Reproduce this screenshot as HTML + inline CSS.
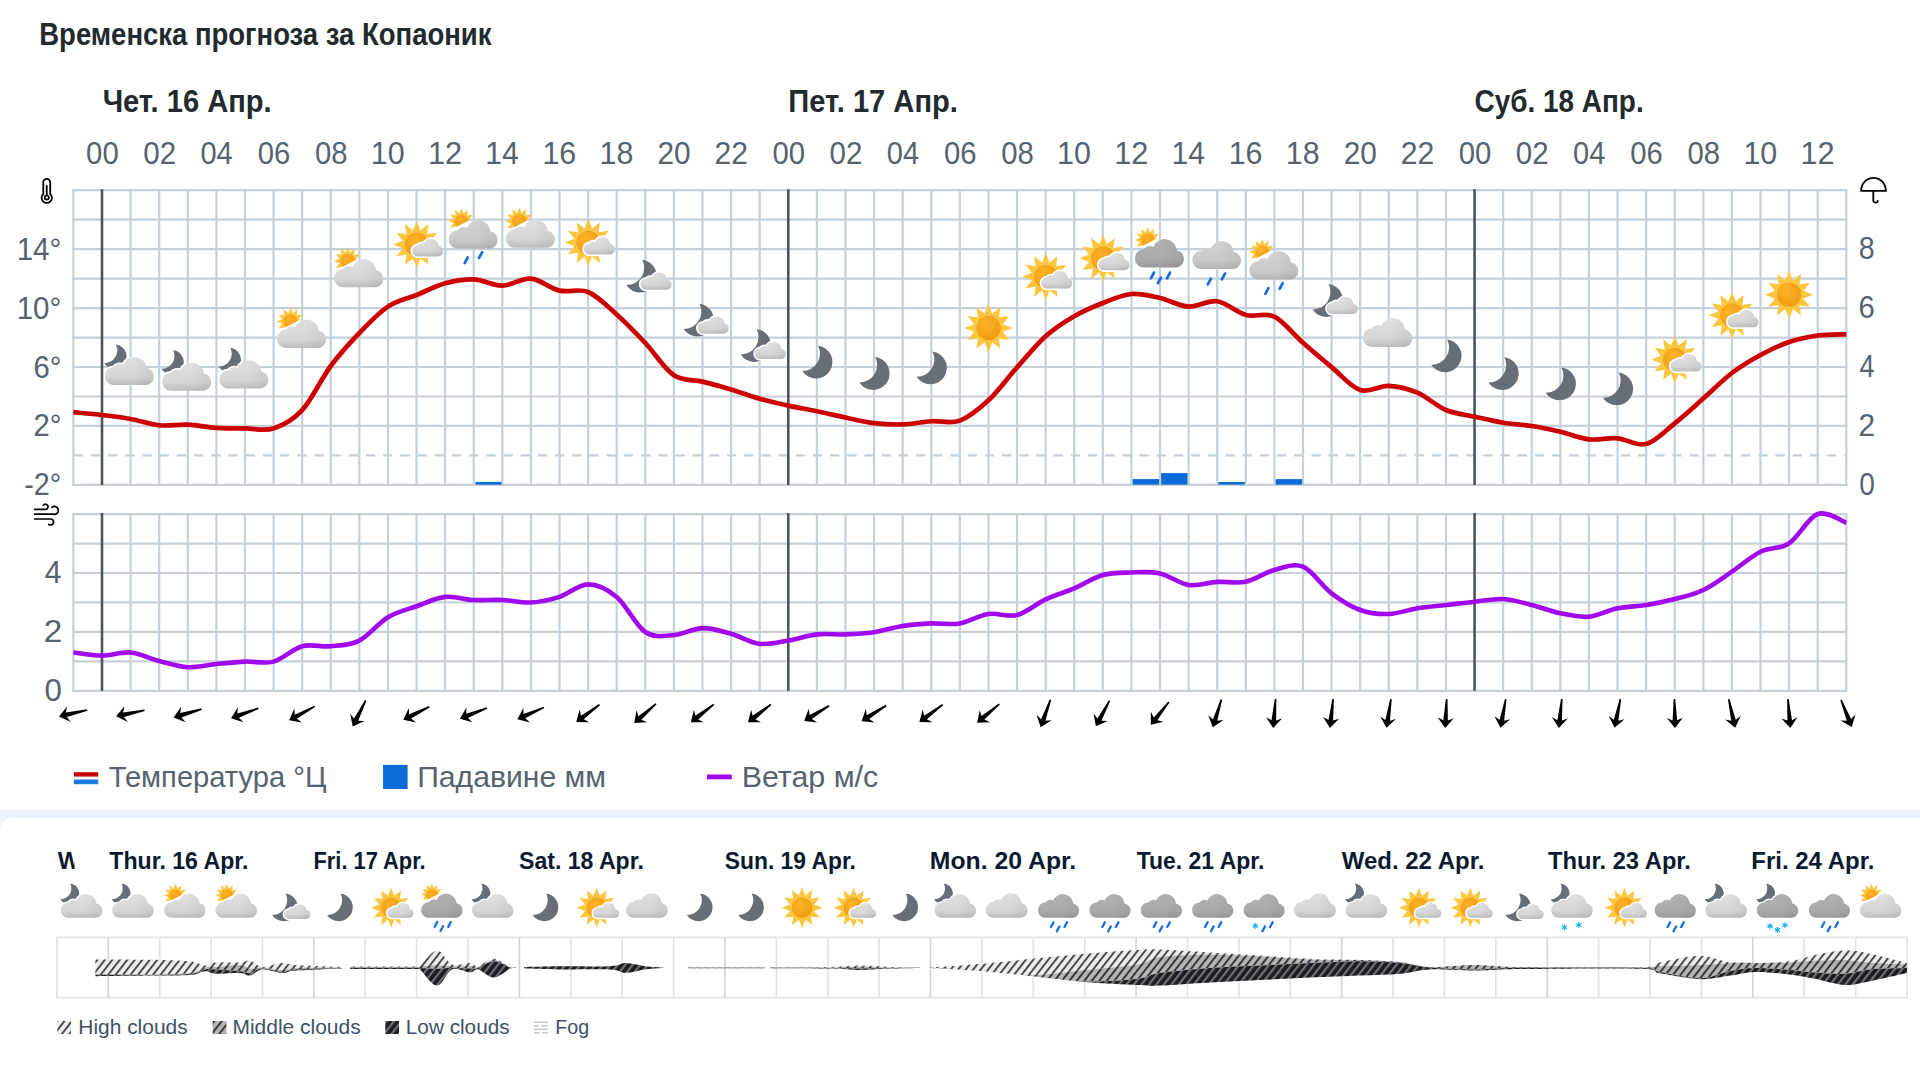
<!DOCTYPE html><html><head><meta charset="utf-8"><style>html,body{margin:0;padding:0;background:#fff;width:1920px;height:1080px;overflow:hidden}svg{display:block}</style></head><body>
<svg width="1920" height="1080" viewBox="0 0 1920 1080" font-family='"Liberation Sans", sans-serif'>
<defs>
<linearGradient id="gCl" x1="0" y1="0" x2="0" y2="1"><stop offset="0" stop-color="#e0e0e0"/><stop offset="0.7" stop-color="#d6d6d6"/><stop offset="1" stop-color="#bdbdbd"/></linearGradient>
<linearGradient id="gClD" x1="0" y1="0" x2="0" y2="1"><stop offset="0" stop-color="#b0b0b0"/><stop offset="0.7" stop-color="#ababab"/><stop offset="1" stop-color="#999999"/></linearGradient>
<linearGradient id="gClM" x1="0" y1="0" x2="0" y2="1"><stop offset="0" stop-color="#d2d2d2"/><stop offset="0.7" stop-color="#cacaca"/><stop offset="1" stop-color="#b4b4b4"/></linearGradient>
<linearGradient id="gClShade" x1="0" y1="0" x2="1" y2="0"><stop offset="0.55" stop-color="#000" stop-opacity="0"/><stop offset="1" stop-color="#000" stop-opacity="0.06"/></linearGradient>
<radialGradient id="gSun" cx="0.4" cy="0.35" r="0.7"><stop offset="0" stop-color="#fbb22a"/><stop offset="1" stop-color="#f39a0c"/></radialGradient>
<g id="cloudShape"><g><circle cx="11" cy="18" r="10"/><circle cx="27" cy="13" r="13"/><circle cx="40" cy="18.5" r="9.5"/><rect x="11" y="14" width="29" height="14"/></g></g>
<g id="sun"><polygon points="0.00,-24.00 3.83,-14.30 12.00,-20.78 10.47,-10.47 20.78,-12.00 14.30,-3.83 24.00,0.00 14.30,3.83 20.78,12.00 10.47,10.47 12.00,20.78 3.83,14.30 0.00,24.00 -3.83,14.30 -12.00,20.78 -10.47,10.47 -20.78,12.00 -14.30,3.83 -24.00,0.00 -14.30,-3.83 -20.78,-12.00 -10.47,-10.47 -12.00,-20.78 -3.83,-14.30" fill="#fcc63f"/><circle r="13.6" fill="#fbc84a"/><circle r="12.2" fill="url(#gSun)"/></g>
<path id="moon" d="M2.13,-16.36 A16.50,16.50 0 1 1 -13.83,9.00 A17.50,17.50 0 0 0 2.13,-16.36 Z" fill="#686e76"/>
<pattern id="pH" patternUnits="userSpaceOnUse" width="5.9" height="10" patternTransform="rotate(38)"><rect width="5.9" height="10" fill="#ececec"/><rect width="1.8" height="10" fill="#3e3e3e"/></pattern>
<pattern id="pM" patternUnits="userSpaceOnUse" width="5.9" height="10" patternTransform="rotate(38)"><rect width="5.9" height="10" fill="#b4b4b4"/><rect width="2.0" height="10" fill="#383838"/></pattern>
<pattern id="pL" patternUnits="userSpaceOnUse" width="5.9" height="10" patternTransform="rotate(38)"><rect width="5.9" height="10" fill="#1c1c20"/><rect width="2.2" height="10" fill="#707074"/></pattern>
</defs>
<rect x="0" y="0" width="1920" height="1080" fill="#ffffff"/>
<rect x="0" y="810" width="1920" height="270" fill="#edf3fb"/>
<rect x="0" y="818" width="1932" height="280" rx="12" ry="12" fill="#ffffff"/>
<text x="39.25" y="44.70" font-size="31.01" font-weight="bold" fill="#232a2e" textLength="452.19" lengthAdjust="spacingAndGlyphs">Временска прогноза за Копаоник</text>
<text x="102.64" y="111.90" font-size="30.43" font-weight="bold" fill="#232a2e" textLength="169.03" lengthAdjust="spacingAndGlyphs">Чет. 16 Апр.</text>
<text x="788.25" y="111.90" font-size="30.43" font-weight="bold" fill="#232a2e" textLength="169.62" lengthAdjust="spacingAndGlyphs">Пет. 17 Апр.</text>
<text x="1474.48" y="111.90" font-size="30.43" font-weight="bold" fill="#232a2e" textLength="169.21" lengthAdjust="spacingAndGlyphs">Суб. 18 Апр.</text>
<text x="86.12" y="163.70" font-size="32.00" font-weight="normal" fill="#56636f" textLength="32.53" lengthAdjust="spacingAndGlyphs">00</text>
<text x="143.30" y="163.70" font-size="32.00" font-weight="normal" fill="#56636f" textLength="32.85" lengthAdjust="spacingAndGlyphs">02</text>
<text x="200.51" y="163.70" font-size="32.00" font-weight="normal" fill="#56636f" textLength="32.23" lengthAdjust="spacingAndGlyphs">04</text>
<text x="257.69" y="163.70" font-size="32.00" font-weight="normal" fill="#56636f" textLength="32.53" lengthAdjust="spacingAndGlyphs">06</text>
<text x="314.88" y="163.70" font-size="32.00" font-weight="normal" fill="#56636f" textLength="32.53" lengthAdjust="spacingAndGlyphs">08</text>
<text x="370.82" y="163.70" font-size="32.00" font-weight="normal" fill="#56636f" textLength="33.83" lengthAdjust="spacingAndGlyphs">10</text>
<text x="427.98" y="163.70" font-size="32.00" font-weight="normal" fill="#56636f" textLength="34.17" lengthAdjust="spacingAndGlyphs">12</text>
<text x="485.22" y="163.70" font-size="32.00" font-weight="normal" fill="#56636f" textLength="33.50" lengthAdjust="spacingAndGlyphs">14</text>
<text x="542.39" y="163.70" font-size="32.00" font-weight="normal" fill="#56636f" textLength="33.83" lengthAdjust="spacingAndGlyphs">16</text>
<text x="599.58" y="163.70" font-size="32.00" font-weight="normal" fill="#56636f" textLength="33.83" lengthAdjust="spacingAndGlyphs">18</text>
<text x="657.40" y="163.70" font-size="32.00" font-weight="normal" fill="#56636f" textLength="33.17" lengthAdjust="spacingAndGlyphs">20</text>
<text x="714.58" y="163.70" font-size="32.00" font-weight="normal" fill="#56636f" textLength="33.50" lengthAdjust="spacingAndGlyphs">22</text>
<text x="772.40" y="163.70" font-size="32.00" font-weight="normal" fill="#56636f" textLength="32.53" lengthAdjust="spacingAndGlyphs">00</text>
<text x="829.58" y="163.70" font-size="32.00" font-weight="normal" fill="#56636f" textLength="32.85" lengthAdjust="spacingAndGlyphs">02</text>
<text x="886.79" y="163.70" font-size="32.00" font-weight="normal" fill="#56636f" textLength="32.23" lengthAdjust="spacingAndGlyphs">04</text>
<text x="943.97" y="163.70" font-size="32.00" font-weight="normal" fill="#56636f" textLength="32.53" lengthAdjust="spacingAndGlyphs">06</text>
<text x="1001.16" y="163.70" font-size="32.00" font-weight="normal" fill="#56636f" textLength="32.53" lengthAdjust="spacingAndGlyphs">08</text>
<text x="1057.10" y="163.70" font-size="32.00" font-weight="normal" fill="#56636f" textLength="33.83" lengthAdjust="spacingAndGlyphs">10</text>
<text x="1114.26" y="163.70" font-size="32.00" font-weight="normal" fill="#56636f" textLength="34.17" lengthAdjust="spacingAndGlyphs">12</text>
<text x="1171.50" y="163.70" font-size="32.00" font-weight="normal" fill="#56636f" textLength="33.50" lengthAdjust="spacingAndGlyphs">14</text>
<text x="1228.67" y="163.70" font-size="32.00" font-weight="normal" fill="#56636f" textLength="33.83" lengthAdjust="spacingAndGlyphs">16</text>
<text x="1285.86" y="163.70" font-size="32.00" font-weight="normal" fill="#56636f" textLength="33.83" lengthAdjust="spacingAndGlyphs">18</text>
<text x="1343.68" y="163.70" font-size="32.00" font-weight="normal" fill="#56636f" textLength="33.17" lengthAdjust="spacingAndGlyphs">20</text>
<text x="1400.86" y="163.70" font-size="32.00" font-weight="normal" fill="#56636f" textLength="33.50" lengthAdjust="spacingAndGlyphs">22</text>
<text x="1458.68" y="163.70" font-size="32.00" font-weight="normal" fill="#56636f" textLength="32.53" lengthAdjust="spacingAndGlyphs">00</text>
<text x="1515.86" y="163.70" font-size="32.00" font-weight="normal" fill="#56636f" textLength="32.85" lengthAdjust="spacingAndGlyphs">02</text>
<text x="1573.07" y="163.70" font-size="32.00" font-weight="normal" fill="#56636f" textLength="32.23" lengthAdjust="spacingAndGlyphs">04</text>
<text x="1630.25" y="163.70" font-size="32.00" font-weight="normal" fill="#56636f" textLength="32.53" lengthAdjust="spacingAndGlyphs">06</text>
<text x="1687.44" y="163.70" font-size="32.00" font-weight="normal" fill="#56636f" textLength="32.53" lengthAdjust="spacingAndGlyphs">08</text>
<text x="1743.38" y="163.70" font-size="32.00" font-weight="normal" fill="#56636f" textLength="33.83" lengthAdjust="spacingAndGlyphs">10</text>
<text x="1800.54" y="163.70" font-size="32.00" font-weight="normal" fill="#56636f" textLength="34.17" lengthAdjust="spacingAndGlyphs">12</text>
<g stroke="#c5d0d8" stroke-width="2.2" fill="none">
<line x1="72.3" y1="190.20" x2="1847.4" y2="190.20"/>
<line x1="72.3" y1="219.67" x2="1847.4" y2="219.67"/>
<line x1="72.3" y1="249.14" x2="1847.4" y2="249.14"/>
<line x1="72.3" y1="278.61" x2="1847.4" y2="278.61"/>
<line x1="72.3" y1="308.08" x2="1847.4" y2="308.08"/>
<line x1="72.3" y1="337.55" x2="1847.4" y2="337.55"/>
<line x1="72.3" y1="367.02" x2="1847.4" y2="367.02"/>
<line x1="72.3" y1="396.49" x2="1847.4" y2="396.49"/>
<line x1="72.3" y1="425.96" x2="1847.4" y2="425.96"/>
<line x1="72.3" y1="484.90" x2="1847.4" y2="484.90"/>
<line x1="73.40" y1="190.20" x2="73.40" y2="484.90"/>
<line x1="130.59" y1="190.20" x2="130.59" y2="484.90"/>
<line x1="159.19" y1="190.20" x2="159.19" y2="484.90"/>
<line x1="187.78" y1="190.20" x2="187.78" y2="484.90"/>
<line x1="216.38" y1="190.20" x2="216.38" y2="484.90"/>
<line x1="244.97" y1="190.20" x2="244.97" y2="484.90"/>
<line x1="273.56" y1="190.20" x2="273.56" y2="484.90"/>
<line x1="302.16" y1="190.20" x2="302.16" y2="484.90"/>
<line x1="330.75" y1="190.20" x2="330.75" y2="484.90"/>
<line x1="359.35" y1="190.20" x2="359.35" y2="484.90"/>
<line x1="387.94" y1="190.20" x2="387.94" y2="484.90"/>
<line x1="416.54" y1="190.20" x2="416.54" y2="484.90"/>
<line x1="445.13" y1="190.20" x2="445.13" y2="484.90"/>
<line x1="473.73" y1="190.20" x2="473.73" y2="484.90"/>
<line x1="502.32" y1="190.20" x2="502.32" y2="484.90"/>
<line x1="530.92" y1="190.20" x2="530.92" y2="484.90"/>
<line x1="559.51" y1="190.20" x2="559.51" y2="484.90"/>
<line x1="588.11" y1="190.20" x2="588.11" y2="484.90"/>
<line x1="616.70" y1="190.20" x2="616.70" y2="484.90"/>
<line x1="645.30" y1="190.20" x2="645.30" y2="484.90"/>
<line x1="673.89" y1="190.20" x2="673.89" y2="484.90"/>
<line x1="702.49" y1="190.20" x2="702.49" y2="484.90"/>
<line x1="731.08" y1="190.20" x2="731.08" y2="484.90"/>
<line x1="759.68" y1="190.20" x2="759.68" y2="484.90"/>
<line x1="816.87" y1="190.20" x2="816.87" y2="484.90"/>
<line x1="845.46" y1="190.20" x2="845.46" y2="484.90"/>
<line x1="874.06" y1="190.20" x2="874.06" y2="484.90"/>
<line x1="902.65" y1="190.20" x2="902.65" y2="484.90"/>
<line x1="931.25" y1="190.20" x2="931.25" y2="484.90"/>
<line x1="959.84" y1="190.20" x2="959.84" y2="484.90"/>
<line x1="988.44" y1="190.20" x2="988.44" y2="484.90"/>
<line x1="1017.03" y1="190.20" x2="1017.03" y2="484.90"/>
<line x1="1045.63" y1="190.20" x2="1045.63" y2="484.90"/>
<line x1="1074.22" y1="190.20" x2="1074.22" y2="484.90"/>
<line x1="1102.82" y1="190.20" x2="1102.82" y2="484.90"/>
<line x1="1131.41" y1="190.20" x2="1131.41" y2="484.90"/>
<line x1="1160.01" y1="190.20" x2="1160.01" y2="484.90"/>
<line x1="1188.61" y1="190.20" x2="1188.61" y2="484.90"/>
<line x1="1217.20" y1="190.20" x2="1217.20" y2="484.90"/>
<line x1="1245.80" y1="190.20" x2="1245.80" y2="484.90"/>
<line x1="1274.39" y1="190.20" x2="1274.39" y2="484.90"/>
<line x1="1302.99" y1="190.20" x2="1302.99" y2="484.90"/>
<line x1="1331.58" y1="190.20" x2="1331.58" y2="484.90"/>
<line x1="1360.17" y1="190.20" x2="1360.17" y2="484.90"/>
<line x1="1388.77" y1="190.20" x2="1388.77" y2="484.90"/>
<line x1="1417.37" y1="190.20" x2="1417.37" y2="484.90"/>
<line x1="1445.96" y1="190.20" x2="1445.96" y2="484.90"/>
<line x1="1503.15" y1="190.20" x2="1503.15" y2="484.90"/>
<line x1="1531.75" y1="190.20" x2="1531.75" y2="484.90"/>
<line x1="1560.34" y1="190.20" x2="1560.34" y2="484.90"/>
<line x1="1588.93" y1="190.20" x2="1588.93" y2="484.90"/>
<line x1="1617.53" y1="190.20" x2="1617.53" y2="484.90"/>
<line x1="1646.12" y1="190.20" x2="1646.12" y2="484.90"/>
<line x1="1674.72" y1="190.20" x2="1674.72" y2="484.90"/>
<line x1="1703.32" y1="190.20" x2="1703.32" y2="484.90"/>
<line x1="1731.91" y1="190.20" x2="1731.91" y2="484.90"/>
<line x1="1760.51" y1="190.20" x2="1760.51" y2="484.90"/>
<line x1="1789.10" y1="190.20" x2="1789.10" y2="484.90"/>
<line x1="1817.69" y1="190.20" x2="1817.69" y2="484.90"/>
<line x1="1846.29" y1="190.20" x2="1846.29" y2="484.90"/>
</g>
<line x1="73.7" y1="455.43" x2="1846.3" y2="455.43" stroke="#c5d0d8" stroke-width="2.2" stroke-dasharray="9.3 7.89"/>
<line x1="102.00" y1="189.20" x2="102.00" y2="484.90" stroke="#4b5461" stroke-width="2.6"/>
<line x1="788.27" y1="189.20" x2="788.27" y2="484.90" stroke="#4b5461" stroke-width="2.6"/>
<line x1="1474.56" y1="189.20" x2="1474.56" y2="484.90" stroke="#4b5461" stroke-width="2.6"/>
<text x="16.68" y="259.64" font-size="32.00" font-weight="normal" fill="#56636f" textLength="44.69" lengthAdjust="spacingAndGlyphs">14°</text>
<text x="16.68" y="318.58" font-size="32.00" font-weight="normal" fill="#56636f" textLength="44.69" lengthAdjust="spacingAndGlyphs">10°</text>
<text x="33.39" y="377.52" font-size="32.00" font-weight="normal" fill="#56636f" textLength="27.96" lengthAdjust="spacingAndGlyphs">6°</text>
<text x="33.39" y="436.46" font-size="32.00" font-weight="normal" fill="#56636f" textLength="27.96" lengthAdjust="spacingAndGlyphs">2°</text>
<text x="24.30" y="495.40" font-size="32.00" font-weight="normal" fill="#56636f" textLength="37.02" lengthAdjust="spacingAndGlyphs">-2°</text>
<text x="1858.85" y="259.44" font-size="31.43" font-weight="normal" fill="#56636f" textLength="15.93" lengthAdjust="spacingAndGlyphs">8</text>
<text x="1858.54" y="318.38" font-size="31.43" font-weight="normal" fill="#56636f" textLength="16.27" lengthAdjust="spacingAndGlyphs">6</text>
<text x="1859.46" y="377.32" font-size="31.43" font-weight="normal" fill="#56636f" textLength="14.99" lengthAdjust="spacingAndGlyphs">4</text>
<text x="1858.51" y="436.26" font-size="31.43" font-weight="normal" fill="#56636f" textLength="16.62" lengthAdjust="spacingAndGlyphs">2</text>
<text x="1859.16" y="495.20" font-size="31.43" font-weight="normal" fill="#56636f" textLength="15.61" lengthAdjust="spacingAndGlyphs">0</text>
<g fill="none" stroke="#000" stroke-width="1.8" stroke-linecap="round"><path d="M43.3,194 V182.3 A3.45,3.45 0 0 1 50.2,182.3 V194 A5.15,5.15 0 1 1 43.3,194 Z"/><line x1="46.75" y1="185.8" x2="46.75" y2="195.5"/></g>
<circle cx="46.75" cy="197.6" r="2.1" fill="#fff" stroke="#000" stroke-width="1.7"/>
<g fill="none" stroke="#000" stroke-width="1.8" stroke-linecap="round" stroke-linejoin="round"><path d="M1861.1,190.9 A12.4,13 0 0 1 1885.9,190.9 Z"/><path d="M1873.3,191 V199.6 A2.3,2.3 0 0 0 1877.8,200.9"/></g>
<g fill="none" stroke="#000" stroke-width="1.7" stroke-linecap="round"><path d="M34.7,509.3 H45 A2.6,2.6 0 1 0 43.3,505.2"/><path d="M34.7,514.2 H53.7 A3.9,3.9 0 1 0 52,507.3"/><path d="M34.7,519 H51 A3,3 0 1 1 48.7,524.3"/></g>
<rect x="475.5" y="481.9" width="26.0" height="2.7" fill="#0b6bd8"/>
<rect x="1132.7" y="479.1" width="26.4" height="5.5" fill="#0b6bd8"/>
<rect x="1161.1" y="473.1" width="26.4" height="11.5" fill="#0b6bd8"/>
<rect x="1218.4" y="482.0" width="26.4" height="2.6" fill="#0b6bd8"/>
<rect x="1275.7" y="479.1" width="26.4" height="5.5" fill="#0b6bd8"/>
<path d="M73.40,412.20 C78.17,412.67 92.46,413.87 102.00,415.00 C111.53,416.13 121.06,417.28 130.59,419.00 C140.12,420.72 149.65,424.35 159.19,425.30 C168.72,426.25 178.25,424.28 187.78,424.70 C197.31,425.12 206.84,427.18 216.38,427.80 C225.91,428.42 235.44,428.30 244.97,428.40 C254.50,428.50 264.03,431.43 273.56,428.40 C283.10,425.37 292.63,420.60 302.16,410.20 C311.69,399.80 321.22,378.87 330.75,366.00 C340.29,353.13 349.82,342.90 359.35,333.00 C368.88,323.10 378.41,312.93 387.94,306.60 C397.48,300.27 407.01,298.88 416.54,295.00 C426.07,291.12 435.60,285.90 445.13,283.30 C454.67,280.70 464.20,279.02 473.73,279.40 C483.26,279.78 492.79,285.73 502.32,285.60 C511.86,285.47 521.39,277.77 530.92,278.60 C540.45,279.43 549.98,288.37 559.51,290.60 C569.05,292.83 578.58,288.03 588.11,292.00 C597.64,295.97 607.17,305.90 616.70,314.40 C626.24,322.90 635.77,332.85 645.30,343.00 C654.83,353.15 664.36,368.87 673.89,375.30 C683.43,381.73 692.96,379.25 702.49,381.60 C712.02,383.95 721.55,386.54 731.08,389.40 C740.62,392.26 750.15,396.05 759.68,398.75 C769.21,401.45 778.74,403.52 788.27,405.60 C797.81,407.68 807.34,409.27 816.87,411.25 C826.40,413.23 835.93,415.52 845.46,417.50 C855.00,419.48 864.53,421.95 874.06,423.10 C883.59,424.25 893.12,424.71 902.65,424.40 C912.19,424.09 921.72,421.88 931.25,421.25 C940.78,420.62 950.31,424.09 959.84,420.60 C969.38,417.11 978.91,409.17 988.44,400.30 C997.97,391.43 1007.50,378.07 1017.03,367.40 C1026.57,356.73 1036.10,344.82 1045.63,336.30 C1055.16,327.78 1064.69,321.85 1074.22,316.30 C1083.76,310.75 1093.29,306.72 1102.82,303.00 C1112.35,299.28 1121.88,294.83 1131.41,294.00 C1140.95,293.17 1150.48,295.90 1160.01,298.00 C1169.54,300.10 1179.07,306.06 1188.61,306.60 C1198.14,307.14 1207.67,299.85 1217.20,301.25 C1226.73,302.65 1236.26,312.43 1245.80,315.00 C1255.33,317.57 1264.86,312.07 1274.39,316.70 C1283.92,321.33 1293.45,334.40 1302.99,342.80 C1312.52,351.20 1322.05,359.23 1331.58,367.10 C1341.11,374.97 1350.64,386.88 1360.17,390.00 C1369.71,393.12 1379.24,385.35 1388.77,385.80 C1398.30,386.25 1407.83,388.67 1417.37,392.70 C1426.90,396.73 1436.43,406.00 1445.96,410.00 C1455.49,414.00 1465.02,414.58 1474.56,416.70 C1484.09,418.82 1493.62,421.15 1503.15,422.70 C1512.68,424.25 1522.21,424.50 1531.75,426.00 C1541.28,427.50 1550.81,429.48 1560.34,431.70 C1569.87,433.92 1579.40,438.20 1588.93,439.30 C1598.47,440.40 1608.00,437.52 1617.53,438.30 C1627.06,439.08 1636.59,446.50 1646.12,444.00 C1655.66,441.50 1665.19,430.88 1674.72,423.30 C1684.25,415.72 1693.78,406.88 1703.32,398.50 C1712.85,390.12 1722.38,380.25 1731.91,373.00 C1741.44,365.75 1750.97,360.17 1760.51,355.00 C1770.04,349.83 1779.57,345.25 1789.10,342.00 C1798.63,338.75 1808.16,336.78 1817.69,335.50 C1827.23,334.22 1841.52,334.50 1846.29,334.30" fill="none" stroke="#cc0000" stroke-width="4.7" stroke-linejoin="round" stroke-linecap="butt"/>
<g stroke="#c5d0d8" stroke-width="2.2" fill="none">
<line x1="72.3" y1="514.10" x2="1847.4" y2="514.10"/>
<line x1="72.3" y1="543.55" x2="1847.4" y2="543.55"/>
<line x1="72.3" y1="573.00" x2="1847.4" y2="573.00"/>
<line x1="72.3" y1="602.45" x2="1847.4" y2="602.45"/>
<line x1="72.3" y1="631.90" x2="1847.4" y2="631.90"/>
<line x1="72.3" y1="661.35" x2="1847.4" y2="661.35"/>
<line x1="72.3" y1="690.80" x2="1847.4" y2="690.80"/>
<line x1="73.40" y1="514.10" x2="73.40" y2="690.80"/>
<line x1="130.59" y1="514.10" x2="130.59" y2="690.80"/>
<line x1="159.19" y1="514.10" x2="159.19" y2="690.80"/>
<line x1="187.78" y1="514.10" x2="187.78" y2="690.80"/>
<line x1="216.38" y1="514.10" x2="216.38" y2="690.80"/>
<line x1="244.97" y1="514.10" x2="244.97" y2="690.80"/>
<line x1="273.56" y1="514.10" x2="273.56" y2="690.80"/>
<line x1="302.16" y1="514.10" x2="302.16" y2="690.80"/>
<line x1="330.75" y1="514.10" x2="330.75" y2="690.80"/>
<line x1="359.35" y1="514.10" x2="359.35" y2="690.80"/>
<line x1="387.94" y1="514.10" x2="387.94" y2="690.80"/>
<line x1="416.54" y1="514.10" x2="416.54" y2="690.80"/>
<line x1="445.13" y1="514.10" x2="445.13" y2="690.80"/>
<line x1="473.73" y1="514.10" x2="473.73" y2="690.80"/>
<line x1="502.32" y1="514.10" x2="502.32" y2="690.80"/>
<line x1="530.92" y1="514.10" x2="530.92" y2="690.80"/>
<line x1="559.51" y1="514.10" x2="559.51" y2="690.80"/>
<line x1="588.11" y1="514.10" x2="588.11" y2="690.80"/>
<line x1="616.70" y1="514.10" x2="616.70" y2="690.80"/>
<line x1="645.30" y1="514.10" x2="645.30" y2="690.80"/>
<line x1="673.89" y1="514.10" x2="673.89" y2="690.80"/>
<line x1="702.49" y1="514.10" x2="702.49" y2="690.80"/>
<line x1="731.08" y1="514.10" x2="731.08" y2="690.80"/>
<line x1="759.68" y1="514.10" x2="759.68" y2="690.80"/>
<line x1="816.87" y1="514.10" x2="816.87" y2="690.80"/>
<line x1="845.46" y1="514.10" x2="845.46" y2="690.80"/>
<line x1="874.06" y1="514.10" x2="874.06" y2="690.80"/>
<line x1="902.65" y1="514.10" x2="902.65" y2="690.80"/>
<line x1="931.25" y1="514.10" x2="931.25" y2="690.80"/>
<line x1="959.84" y1="514.10" x2="959.84" y2="690.80"/>
<line x1="988.44" y1="514.10" x2="988.44" y2="690.80"/>
<line x1="1017.03" y1="514.10" x2="1017.03" y2="690.80"/>
<line x1="1045.63" y1="514.10" x2="1045.63" y2="690.80"/>
<line x1="1074.22" y1="514.10" x2="1074.22" y2="690.80"/>
<line x1="1102.82" y1="514.10" x2="1102.82" y2="690.80"/>
<line x1="1131.41" y1="514.10" x2="1131.41" y2="690.80"/>
<line x1="1160.01" y1="514.10" x2="1160.01" y2="690.80"/>
<line x1="1188.61" y1="514.10" x2="1188.61" y2="690.80"/>
<line x1="1217.20" y1="514.10" x2="1217.20" y2="690.80"/>
<line x1="1245.80" y1="514.10" x2="1245.80" y2="690.80"/>
<line x1="1274.39" y1="514.10" x2="1274.39" y2="690.80"/>
<line x1="1302.99" y1="514.10" x2="1302.99" y2="690.80"/>
<line x1="1331.58" y1="514.10" x2="1331.58" y2="690.80"/>
<line x1="1360.17" y1="514.10" x2="1360.17" y2="690.80"/>
<line x1="1388.77" y1="514.10" x2="1388.77" y2="690.80"/>
<line x1="1417.37" y1="514.10" x2="1417.37" y2="690.80"/>
<line x1="1445.96" y1="514.10" x2="1445.96" y2="690.80"/>
<line x1="1503.15" y1="514.10" x2="1503.15" y2="690.80"/>
<line x1="1531.75" y1="514.10" x2="1531.75" y2="690.80"/>
<line x1="1560.34" y1="514.10" x2="1560.34" y2="690.80"/>
<line x1="1588.93" y1="514.10" x2="1588.93" y2="690.80"/>
<line x1="1617.53" y1="514.10" x2="1617.53" y2="690.80"/>
<line x1="1646.12" y1="514.10" x2="1646.12" y2="690.80"/>
<line x1="1674.72" y1="514.10" x2="1674.72" y2="690.80"/>
<line x1="1703.32" y1="514.10" x2="1703.32" y2="690.80"/>
<line x1="1731.91" y1="514.10" x2="1731.91" y2="690.80"/>
<line x1="1760.51" y1="514.10" x2="1760.51" y2="690.80"/>
<line x1="1789.10" y1="514.10" x2="1789.10" y2="690.80"/>
<line x1="1817.69" y1="514.10" x2="1817.69" y2="690.80"/>
<line x1="1846.29" y1="514.10" x2="1846.29" y2="690.80"/>
</g>
<line x1="102.00" y1="513.10" x2="102.00" y2="690.80" stroke="#4b5461" stroke-width="2.6"/>
<line x1="788.27" y1="513.10" x2="788.27" y2="690.80" stroke="#4b5461" stroke-width="2.6"/>
<line x1="1474.56" y1="513.10" x2="1474.56" y2="690.80" stroke="#4b5461" stroke-width="2.6"/>
<text x="44.85" y="583.40" font-size="31.14" font-weight="normal" fill="#56636f" textLength="16.68" lengthAdjust="spacingAndGlyphs">4</text>
<text x="43.79" y="642.30" font-size="31.14" font-weight="normal" fill="#56636f" textLength="18.50" lengthAdjust="spacingAndGlyphs">2</text>
<text x="44.51" y="701.20" font-size="31.14" font-weight="normal" fill="#56636f" textLength="17.37" lengthAdjust="spacingAndGlyphs">0</text>
<path d="M73.40,652.50 C78.17,653.02 92.46,655.60 102.00,655.60 C111.53,655.60 121.06,651.60 130.59,652.50 C140.12,653.40 149.65,658.55 159.19,661.00 C168.72,663.45 178.25,666.70 187.78,667.20 C197.31,667.70 206.84,664.93 216.38,664.00 C225.91,663.07 235.44,662.00 244.97,661.60 C254.50,661.20 264.03,664.16 273.56,661.60 C283.10,659.04 292.63,648.81 302.16,646.25 C311.69,643.69 321.22,647.19 330.75,646.25 C340.29,645.31 349.82,645.44 359.35,640.60 C368.88,635.76 378.41,622.93 387.94,617.20 C397.48,611.48 407.01,609.63 416.54,606.25 C426.07,602.87 435.60,597.94 445.13,596.90 C454.67,595.86 464.20,599.48 473.73,600.00 C483.26,600.52 492.79,599.58 502.32,600.00 C511.86,600.42 521.39,603.02 530.92,602.50 C540.45,601.98 549.98,599.92 559.51,596.90 C569.05,593.88 578.58,584.40 588.11,584.40 C597.64,584.40 607.17,588.97 616.70,596.90 C626.24,604.83 635.77,625.65 645.30,632.00 C654.83,638.35 664.36,635.65 673.89,635.00 C683.43,634.35 692.96,628.31 702.49,628.10 C712.02,627.89 721.55,631.14 731.08,633.75 C740.62,636.36 750.15,642.61 759.68,643.75 C769.21,644.89 778.74,642.16 788.27,640.60 C797.81,639.04 807.34,635.43 816.87,634.40 C826.40,633.37 835.93,634.77 845.46,634.40 C855.00,634.03 864.53,633.60 874.06,632.20 C883.59,630.80 893.12,627.47 902.65,626.00 C912.19,624.53 921.72,623.83 931.25,623.40 C940.78,622.97 950.31,624.97 959.84,623.40 C969.38,621.83 978.91,615.40 988.44,614.00 C997.97,612.60 1007.50,617.43 1017.03,615.00 C1026.57,612.57 1036.10,603.83 1045.63,599.40 C1055.16,594.97 1064.69,592.47 1074.22,588.40 C1083.76,584.33 1093.29,577.65 1102.82,575.00 C1112.35,572.35 1121.88,572.77 1131.41,572.50 C1140.95,572.23 1150.48,571.32 1160.01,573.40 C1169.54,575.48 1179.07,583.58 1188.61,585.00 C1198.14,586.42 1207.67,582.45 1217.20,581.90 C1226.73,581.35 1236.26,583.68 1245.80,581.70 C1255.33,579.72 1264.86,572.50 1274.39,570.00 C1283.92,567.50 1293.45,562.82 1302.99,566.70 C1312.52,570.58 1322.05,586.08 1331.58,593.30 C1341.11,600.52 1350.64,606.55 1360.17,610.00 C1369.71,613.45 1379.24,614.28 1388.77,614.00 C1398.30,613.72 1407.83,609.80 1417.37,608.30 C1426.90,606.80 1436.43,606.10 1445.96,605.00 C1455.49,603.90 1465.02,602.70 1474.56,601.70 C1484.09,600.70 1493.62,598.45 1503.15,599.00 C1512.68,599.55 1522.21,602.62 1531.75,605.00 C1541.28,607.38 1550.81,611.35 1560.34,613.30 C1569.87,615.25 1579.40,617.53 1588.93,616.70 C1598.47,615.87 1608.00,610.25 1617.53,608.30 C1627.06,606.35 1636.59,606.55 1646.12,605.00 C1655.66,603.45 1665.19,601.50 1674.72,599.00 C1684.25,596.50 1693.78,594.55 1703.32,590.00 C1712.85,585.45 1722.38,578.08 1731.91,571.70 C1741.44,565.32 1750.97,556.43 1760.51,551.70 C1770.04,546.97 1779.57,549.58 1789.10,543.30 C1798.63,537.02 1808.16,517.43 1817.69,514.00 C1827.23,510.57 1841.52,521.25 1846.29,522.70" fill="none" stroke="#a108ee" stroke-width="4.6" stroke-linejoin="round" stroke-linecap="butt"/>
<path d="M14.8,0 L4.6,-8.0 L7.2,-2.3 L-14.3,-0.8 L-14.3,0.8 L7.2,2.3 L4.6,8.0 Z" transform="translate(73.40,713.2) rotate(166.7)" fill="#000"/>
<path d="M14.8,0 L4.6,-8.0 L7.2,-2.3 L-14.3,-0.8 L-14.3,0.8 L7.2,2.3 L4.6,8.0 Z" transform="translate(130.59,713.2) rotate(167.8)" fill="#000"/>
<path d="M14.8,0 L4.6,-8.0 L7.2,-2.3 L-14.3,-0.8 L-14.3,0.8 L7.2,2.3 L4.6,8.0 Z" transform="translate(187.78,713.2) rotate(163.5)" fill="#000"/>
<path d="M14.8,0 L4.6,-8.0 L7.2,-2.3 L-14.3,-0.8 L-14.3,0.8 L7.2,2.3 L4.6,8.0 Z" transform="translate(244.97,713.2) rotate(159.8)" fill="#000"/>
<path d="M14.8,0 L4.6,-8.0 L7.2,-2.3 L-14.3,-0.8 L-14.3,0.8 L7.2,2.3 L4.6,8.0 Z" transform="translate(302.16,713.2) rotate(151.4)" fill="#000"/>
<path d="M14.8,0 L4.6,-8.0 L7.2,-2.3 L-14.3,-0.8 L-14.3,0.8 L7.2,2.3 L4.6,8.0 Z" transform="translate(359.35,713.2) rotate(116.6)" fill="#000"/>
<path d="M14.8,0 L4.6,-8.0 L7.2,-2.3 L-14.3,-0.8 L-14.3,0.8 L7.2,2.3 L4.6,8.0 Z" transform="translate(416.54,713.2) rotate(153.4)" fill="#000"/>
<path d="M14.8,0 L4.6,-8.0 L7.2,-2.3 L-14.3,-0.8 L-14.3,0.8 L7.2,2.3 L4.6,8.0 Z" transform="translate(473.73,713.2) rotate(158.3)" fill="#000"/>
<path d="M14.8,0 L4.6,-8.0 L7.2,-2.3 L-14.3,-0.8 L-14.3,0.8 L7.2,2.3 L4.6,8.0 Z" transform="translate(530.92,713.2) rotate(156.0)" fill="#000"/>
<path d="M14.8,0 L4.6,-8.0 L7.2,-2.3 L-14.3,-0.8 L-14.3,0.8 L7.2,2.3 L4.6,8.0 Z" transform="translate(588.11,713.2) rotate(143.0)" fill="#000"/>
<path d="M14.8,0 L4.6,-8.0 L7.2,-2.3 L-14.3,-0.8 L-14.3,0.8 L7.2,2.3 L4.6,8.0 Z" transform="translate(645.30,713.2) rotate(138.6)" fill="#000"/>
<path d="M14.8,0 L4.6,-8.0 L7.2,-2.3 L-14.3,-0.8 L-14.3,0.8 L7.2,2.3 L4.6,8.0 Z" transform="translate(702.49,713.2) rotate(142.0)" fill="#000"/>
<path d="M14.8,0 L4.6,-8.0 L7.2,-2.3 L-14.3,-0.8 L-14.3,0.8 L7.2,2.3 L4.6,8.0 Z" transform="translate(759.68,713.2) rotate(142.0)" fill="#000"/>
<path d="M14.8,0 L4.6,-8.0 L7.2,-2.3 L-14.3,-0.8 L-14.3,0.8 L7.2,2.3 L4.6,8.0 Z" transform="translate(816.87,713.2) rotate(148.7)" fill="#000"/>
<path d="M14.8,0 L4.6,-8.0 L7.2,-2.3 L-14.3,-0.8 L-14.3,0.8 L7.2,2.3 L4.6,8.0 Z" transform="translate(874.06,713.2) rotate(147.5)" fill="#000"/>
<path d="M14.8,0 L4.6,-8.0 L7.2,-2.3 L-14.3,-0.8 L-14.3,0.8 L7.2,2.3 L4.6,8.0 Z" transform="translate(931.25,713.2) rotate(143.3)" fill="#000"/>
<path d="M14.8,0 L4.6,-8.0 L7.2,-2.3 L-14.3,-0.8 L-14.3,0.8 L7.2,2.3 L4.6,8.0 Z" transform="translate(988.44,713.2) rotate(140.0)" fill="#000"/>
<path d="M14.8,0 L4.6,-8.0 L7.2,-2.3 L-14.3,-0.8 L-14.3,0.8 L7.2,2.3 L4.6,8.0 Z" transform="translate(1045.63,713.2) rotate(109.5)" fill="#000"/>
<path d="M14.8,0 L4.6,-8.0 L7.2,-2.3 L-14.3,-0.8 L-14.3,0.8 L7.2,2.3 L4.6,8.0 Z" transform="translate(1102.82,713.2) rotate(118.0)" fill="#000"/>
<path d="M14.8,0 L4.6,-8.0 L7.2,-2.3 L-14.3,-0.8 L-14.3,0.8 L7.2,2.3 L4.6,8.0 Z" transform="translate(1160.01,713.2) rotate(128.3)" fill="#000"/>
<path d="M14.8,0 L4.6,-8.0 L7.2,-2.3 L-14.3,-0.8 L-14.3,0.8 L7.2,2.3 L4.6,8.0 Z" transform="translate(1217.20,713.2) rotate(107.0)" fill="#000"/>
<path d="M14.8,0 L4.6,-8.0 L7.2,-2.3 L-14.3,-0.8 L-14.3,0.8 L7.2,2.3 L4.6,8.0 Z" transform="translate(1274.39,713.2) rotate(94.7)" fill="#000"/>
<path d="M14.8,0 L4.6,-8.0 L7.2,-2.3 L-14.3,-0.8 L-14.3,0.8 L7.2,2.3 L4.6,8.0 Z" transform="translate(1331.58,713.2) rotate(96.2)" fill="#000"/>
<path d="M14.8,0 L4.6,-8.0 L7.2,-2.3 L-14.3,-0.8 L-14.3,0.8 L7.2,2.3 L4.6,8.0 Z" transform="translate(1388.77,713.2) rotate(98.8)" fill="#000"/>
<path d="M14.8,0 L4.6,-8.0 L7.2,-2.3 L-14.3,-0.8 L-14.3,0.8 L7.2,2.3 L4.6,8.0 Z" transform="translate(1445.96,713.2) rotate(92.9)" fill="#000"/>
<path d="M14.8,0 L4.6,-8.0 L7.2,-2.3 L-14.3,-0.8 L-14.3,0.8 L7.2,2.3 L4.6,8.0 Z" transform="translate(1503.15,713.2) rotate(100.5)" fill="#000"/>
<path d="M14.8,0 L4.6,-8.0 L7.2,-2.3 L-14.3,-0.8 L-14.3,0.8 L7.2,2.3 L4.6,8.0 Z" transform="translate(1560.34,713.2) rotate(95.8)" fill="#000"/>
<path d="M14.8,0 L4.6,-8.0 L7.2,-2.3 L-14.3,-0.8 L-14.3,0.8 L7.2,2.3 L4.6,8.0 Z" transform="translate(1617.53,713.2) rotate(101.6)" fill="#000"/>
<path d="M14.8,0 L4.6,-8.0 L7.2,-2.3 L-14.3,-0.8 L-14.3,0.8 L7.2,2.3 L4.6,8.0 Z" transform="translate(1674.72,713.2) rotate(88.8)" fill="#000"/>
<path d="M14.8,0 L4.6,-8.0 L7.2,-2.3 L-14.3,-0.8 L-14.3,0.8 L7.2,2.3 L4.6,8.0 Z" transform="translate(1731.91,713.2) rotate(77.2)" fill="#000"/>
<path d="M14.8,0 L4.6,-8.0 L7.2,-2.3 L-14.3,-0.8 L-14.3,0.8 L7.2,2.3 L4.6,8.0 Z" transform="translate(1789.10,713.2) rotate(85.3)" fill="#000"/>
<path d="M14.8,0 L4.6,-8.0 L7.2,-2.3 L-14.3,-0.8 L-14.3,0.8 L7.2,2.3 L4.6,8.0 Z" transform="translate(1846.29,713.2) rotate(68.3)" fill="#000"/>
<g transform="translate(130.59,345.30) scale(1.000)"><use href="#moon" transform="translate(-16.20,11.20) scale(0.7400)"/><clipPath id="hc1"><circle cx="-16.20" cy="11.20" r="13.00"/></clipPath><g clip-path="url(#hc1)"><g transform="translate(-25.60,11.70) scale(0.9940,1.0000)"><path d="M9.00,28.00 A9,9 0 0 1 8.75,10.00 A8,8 0 0 1 18.22,7.68 A12.5,12.5 0 0 1 42.17,11.11 A8.5,8.5 0 0 1 40.80,28.00 Z" fill="#fff" stroke="#fff" stroke-width="3.22" stroke-linejoin="round"/></g></g><g transform="translate(-25.60,11.70) scale(0.9940,1.0000)"><path d="M9.00,28.00 A9,9 0 0 1 8.75,10.00 A8,8 0 0 1 18.22,7.68 A12.5,12.5 0 0 1 42.17,11.11 A8.5,8.5 0 0 1 40.80,28.00 Z" fill="url(#gCl)"/><path d="M9.00,28.00 A9,9 0 0 1 8.75,10.00 A8,8 0 0 1 18.22,7.68 A12.5,12.5 0 0 1 42.17,11.11 A8.5,8.5 0 0 1 40.80,28.00 Z" fill="url(#gClShade)"/></g></g>
<g transform="translate(187.78,351.00) scale(1.000)"><use href="#moon" transform="translate(-16.20,11.20) scale(0.7400)"/><clipPath id="hc2"><circle cx="-16.20" cy="11.20" r="13.00"/></clipPath><g clip-path="url(#hc2)"><g transform="translate(-25.60,11.70) scale(0.9940,1.0000)"><path d="M9.00,28.00 A9,9 0 0 1 8.75,10.00 A8,8 0 0 1 18.22,7.68 A12.5,12.5 0 0 1 42.17,11.11 A8.5,8.5 0 0 1 40.80,28.00 Z" fill="#fff" stroke="#fff" stroke-width="3.22" stroke-linejoin="round"/></g></g><g transform="translate(-25.60,11.70) scale(0.9940,1.0000)"><path d="M9.00,28.00 A9,9 0 0 1 8.75,10.00 A8,8 0 0 1 18.22,7.68 A12.5,12.5 0 0 1 42.17,11.11 A8.5,8.5 0 0 1 40.80,28.00 Z" fill="url(#gCl)"/><path d="M9.00,28.00 A9,9 0 0 1 8.75,10.00 A8,8 0 0 1 18.22,7.68 A12.5,12.5 0 0 1 42.17,11.11 A8.5,8.5 0 0 1 40.80,28.00 Z" fill="url(#gClShade)"/></g></g>
<g transform="translate(244.97,348.75) scale(1.000)"><use href="#moon" transform="translate(-16.20,11.20) scale(0.7400)"/><clipPath id="hc3"><circle cx="-16.20" cy="11.20" r="13.00"/></clipPath><g clip-path="url(#hc3)"><g transform="translate(-25.60,11.70) scale(0.9940,1.0000)"><path d="M9.00,28.00 A9,9 0 0 1 8.75,10.00 A8,8 0 0 1 18.22,7.68 A12.5,12.5 0 0 1 42.17,11.11 A8.5,8.5 0 0 1 40.80,28.00 Z" fill="#fff" stroke="#fff" stroke-width="3.22" stroke-linejoin="round"/></g></g><g transform="translate(-25.60,11.70) scale(0.9940,1.0000)"><path d="M9.00,28.00 A9,9 0 0 1 8.75,10.00 A8,8 0 0 1 18.22,7.68 A12.5,12.5 0 0 1 42.17,11.11 A8.5,8.5 0 0 1 40.80,28.00 Z" fill="url(#gCl)"/><path d="M9.00,28.00 A9,9 0 0 1 8.75,10.00 A8,8 0 0 1 18.22,7.68 A12.5,12.5 0 0 1 42.17,11.11 A8.5,8.5 0 0 1 40.80,28.00 Z" fill="url(#gClShade)"/></g></g>
<g transform="translate(302.16,307.60) scale(1.000)"><clipPath id="sc4"><polygon points="-51.60,37.70 28.40,-3.90 28.40,-26.10 -51.60,-26.10"/></clipPath><g clip-path="url(#sc4)"><use href="#sun" transform="translate(-11.60,13.90) scale(0.5833)"/></g><g transform="translate(-25.10,12.00) scale(0.9940,1.0107)"><path d="M9.00,28.00 A9,9 0 0 1 8.75,10.00 A8,8 0 0 1 18.22,7.68 A12.5,12.5 0 0 1 42.17,11.11 A8.5,8.5 0 0 1 40.80,28.00 Z" fill="url(#gCl)"/><path d="M9.00,28.00 A9,9 0 0 1 8.75,10.00 A8,8 0 0 1 18.22,7.68 A12.5,12.5 0 0 1 42.17,11.11 A8.5,8.5 0 0 1 40.80,28.00 Z" fill="url(#gClShade)"/></g></g>
<g transform="translate(359.35,247.00) scale(1.000)"><clipPath id="sc5"><polygon points="-51.60,37.70 28.40,-3.90 28.40,-26.10 -51.60,-26.10"/></clipPath><g clip-path="url(#sc5)"><use href="#sun" transform="translate(-11.60,13.90) scale(0.5833)"/></g><g transform="translate(-25.10,12.00) scale(0.9940,1.0107)"><path d="M9.00,28.00 A9,9 0 0 1 8.75,10.00 A8,8 0 0 1 18.22,7.68 A12.5,12.5 0 0 1 42.17,11.11 A8.5,8.5 0 0 1 40.80,28.00 Z" fill="url(#gCl)"/><path d="M9.00,28.00 A9,9 0 0 1 8.75,10.00 A8,8 0 0 1 18.22,7.68 A12.5,12.5 0 0 1 42.17,11.11 A8.5,8.5 0 0 1 40.80,28.00 Z" fill="url(#gClShade)"/></g></g>
<g transform="translate(416.54,220.80) scale(1.000)"><use href="#sun" transform="translate(0.20,23.60) scale(0.9792)"/><clipPath id="hc6"><circle cx="0.20" cy="23.60" r="24.50"/></clipPath><g clip-path="url(#hc6)"><g transform="translate(-4.30,18.10) scale(0.6280,0.6250)"><path d="M9.00,28.00 A9,9 0 0 1 8.75,10.00 A8,8 0 0 1 18.22,7.68 A12.5,12.5 0 0 1 42.17,11.11 A8.5,8.5 0 0 1 40.80,28.00 Z" fill="#fff" stroke="#fff" stroke-width="5.10" stroke-linejoin="round"/></g></g><g transform="translate(-4.30,18.10) scale(0.6280,0.6250)"><path d="M9.00,28.00 A9,9 0 0 1 8.75,10.00 A8,8 0 0 1 18.22,7.68 A12.5,12.5 0 0 1 42.17,11.11 A8.5,8.5 0 0 1 40.80,28.00 Z" fill="url(#gCl)"/><path d="M9.00,28.00 A9,9 0 0 1 8.75,10.00 A8,8 0 0 1 18.22,7.68 A12.5,12.5 0 0 1 42.17,11.11 A8.5,8.5 0 0 1 40.80,28.00 Z" fill="url(#gClShade)"/></g></g>
<g transform="translate(473.73,208.00) scale(1.000)"><clipPath id="sc7"><polygon points="-52.30,36.90 27.70,-4.70 27.70,-26.90 -52.30,-26.90"/></clipPath><g clip-path="url(#sc7)"><use href="#sun" transform="translate(-12.30,13.10) scale(0.5417)"/></g><g transform="translate(-25.00,12.10) scale(0.9920,1.0179)"><path d="M9.00,28.00 A9,9 0 0 1 8.75,10.00 A8,8 0 0 1 18.22,7.68 A12.5,12.5 0 0 1 42.17,11.11 A8.5,8.5 0 0 1 40.80,28.00 Z" fill="url(#gClM)"/><path d="M9.00,28.00 A9,9 0 0 1 8.75,10.00 A8,8 0 0 1 18.22,7.68 A12.5,12.5 0 0 1 42.17,11.11 A8.5,8.5 0 0 1 40.80,28.00 Z" fill="url(#gClShade)"/></g><line x1="-6.00" y1="49.50" x2="-9.00" y2="55.10" stroke="#1a6fe0" stroke-width="2.8" stroke-linecap="round"/><line x1="8.30" y1="44.30" x2="5.30" y2="49.90" stroke="#1a6fe0" stroke-width="2.8" stroke-linecap="round"/></g>
<g transform="translate(530.92,207.50) scale(1.000)"><clipPath id="sc8"><polygon points="-51.60,37.70 28.40,-3.90 28.40,-26.10 -51.60,-26.10"/></clipPath><g clip-path="url(#sc8)"><use href="#sun" transform="translate(-11.60,13.90) scale(0.5833)"/></g><g transform="translate(-25.10,12.00) scale(0.9940,1.0107)"><path d="M9.00,28.00 A9,9 0 0 1 8.75,10.00 A8,8 0 0 1 18.22,7.68 A12.5,12.5 0 0 1 42.17,11.11 A8.5,8.5 0 0 1 40.80,28.00 Z" fill="url(#gCl)"/><path d="M9.00,28.00 A9,9 0 0 1 8.75,10.00 A8,8 0 0 1 18.22,7.68 A12.5,12.5 0 0 1 42.17,11.11 A8.5,8.5 0 0 1 40.80,28.00 Z" fill="url(#gClShade)"/></g></g>
<g transform="translate(588.11,219.00) scale(1.000)"><use href="#sun" transform="translate(0.20,23.60) scale(0.9792)"/><clipPath id="hc9"><circle cx="0.20" cy="23.60" r="24.50"/></clipPath><g clip-path="url(#hc9)"><g transform="translate(-4.30,18.10) scale(0.6280,0.6250)"><path d="M9.00,28.00 A9,9 0 0 1 8.75,10.00 A8,8 0 0 1 18.22,7.68 A12.5,12.5 0 0 1 42.17,11.11 A8.5,8.5 0 0 1 40.80,28.00 Z" fill="#fff" stroke="#fff" stroke-width="5.10" stroke-linejoin="round"/></g></g><g transform="translate(-4.30,18.10) scale(0.6280,0.6250)"><path d="M9.00,28.00 A9,9 0 0 1 8.75,10.00 A8,8 0 0 1 18.22,7.68 A12.5,12.5 0 0 1 42.17,11.11 A8.5,8.5 0 0 1 40.80,28.00 Z" fill="url(#gCl)"/><path d="M9.00,28.00 A9,9 0 0 1 8.75,10.00 A8,8 0 0 1 18.22,7.68 A12.5,12.5 0 0 1 42.17,11.11 A8.5,8.5 0 0 1 40.80,28.00 Z" fill="url(#gClShade)"/></g></g>
<g transform="translate(645.30,259.70) scale(1.000)"><use href="#moon" transform="translate(-5.10,16.40) scale(1.0000)"/><clipPath id="hc10"><circle cx="-5.10" cy="16.40" r="17.50"/></clipPath><g clip-path="url(#hc10)"><g transform="translate(-4.80,12.90) scale(0.6300,0.6143)"><path d="M9.00,28.00 A9,9 0 0 1 8.75,10.00 A8,8 0 0 1 18.22,7.68 A12.5,12.5 0 0 1 42.17,11.11 A8.5,8.5 0 0 1 40.80,28.00 Z" fill="#fff" stroke="#fff" stroke-width="5.08" stroke-linejoin="round"/></g></g><g transform="translate(-4.80,12.90) scale(0.6300,0.6143)"><path d="M9.00,28.00 A9,9 0 0 1 8.75,10.00 A8,8 0 0 1 18.22,7.68 A12.5,12.5 0 0 1 42.17,11.11 A8.5,8.5 0 0 1 40.80,28.00 Z" fill="url(#gCl)"/><path d="M9.00,28.00 A9,9 0 0 1 8.75,10.00 A8,8 0 0 1 18.22,7.68 A12.5,12.5 0 0 1 42.17,11.11 A8.5,8.5 0 0 1 40.80,28.00 Z" fill="url(#gClShade)"/></g></g>
<g transform="translate(702.49,303.60) scale(1.000)"><use href="#moon" transform="translate(-5.10,16.40) scale(1.0000)"/><clipPath id="hc11"><circle cx="-5.10" cy="16.40" r="17.50"/></clipPath><g clip-path="url(#hc11)"><g transform="translate(-4.80,12.90) scale(0.6300,0.6143)"><path d="M9.00,28.00 A9,9 0 0 1 8.75,10.00 A8,8 0 0 1 18.22,7.68 A12.5,12.5 0 0 1 42.17,11.11 A8.5,8.5 0 0 1 40.80,28.00 Z" fill="#fff" stroke="#fff" stroke-width="5.08" stroke-linejoin="round"/></g></g><g transform="translate(-4.80,12.90) scale(0.6300,0.6143)"><path d="M9.00,28.00 A9,9 0 0 1 8.75,10.00 A8,8 0 0 1 18.22,7.68 A12.5,12.5 0 0 1 42.17,11.11 A8.5,8.5 0 0 1 40.80,28.00 Z" fill="url(#gCl)"/><path d="M9.00,28.00 A9,9 0 0 1 8.75,10.00 A8,8 0 0 1 18.22,7.68 A12.5,12.5 0 0 1 42.17,11.11 A8.5,8.5 0 0 1 40.80,28.00 Z" fill="url(#gClShade)"/></g></g>
<g transform="translate(759.68,329.00) scale(1.000)"><use href="#moon" transform="translate(-5.10,16.40) scale(1.0000)"/><clipPath id="hc12"><circle cx="-5.10" cy="16.40" r="17.50"/></clipPath><g clip-path="url(#hc12)"><g transform="translate(-4.80,12.90) scale(0.6300,0.6143)"><path d="M9.00,28.00 A9,9 0 0 1 8.75,10.00 A8,8 0 0 1 18.22,7.68 A12.5,12.5 0 0 1 42.17,11.11 A8.5,8.5 0 0 1 40.80,28.00 Z" fill="#fff" stroke="#fff" stroke-width="5.08" stroke-linejoin="round"/></g></g><g transform="translate(-4.80,12.90) scale(0.6300,0.6143)"><path d="M9.00,28.00 A9,9 0 0 1 8.75,10.00 A8,8 0 0 1 18.22,7.68 A12.5,12.5 0 0 1 42.17,11.11 A8.5,8.5 0 0 1 40.80,28.00 Z" fill="url(#gCl)"/><path d="M9.00,28.00 A9,9 0 0 1 8.75,10.00 A8,8 0 0 1 18.22,7.68 A12.5,12.5 0 0 1 42.17,11.11 A8.5,8.5 0 0 1 40.80,28.00 Z" fill="url(#gClShade)"/></g></g>
<g transform="translate(816.87,345.20) scale(1.000)"><use href="#moon" transform="translate(-0.90,16.80) scale(1.0000)"/></g>
<g transform="translate(874.06,356.60) scale(1.000)"><use href="#moon" transform="translate(-0.90,16.80) scale(1.0000)"/></g>
<g transform="translate(931.25,351.00) scale(1.000)"><use href="#moon" transform="translate(-0.90,16.80) scale(1.0000)"/></g>
<g transform="translate(988.44,304.00) scale(1.000)"><use href="#sun" transform="translate(0.00,24.00) scale(1.0000)"/></g>
<g transform="translate(1045.63,253.00) scale(1.000)"><use href="#sun" transform="translate(0.20,23.60) scale(0.9792)"/><clipPath id="hc13"><circle cx="0.20" cy="23.60" r="24.50"/></clipPath><g clip-path="url(#hc13)"><g transform="translate(-4.30,18.10) scale(0.6280,0.6250)"><path d="M9.00,28.00 A9,9 0 0 1 8.75,10.00 A8,8 0 0 1 18.22,7.68 A12.5,12.5 0 0 1 42.17,11.11 A8.5,8.5 0 0 1 40.80,28.00 Z" fill="#fff" stroke="#fff" stroke-width="5.10" stroke-linejoin="round"/></g></g><g transform="translate(-4.30,18.10) scale(0.6280,0.6250)"><path d="M9.00,28.00 A9,9 0 0 1 8.75,10.00 A8,8 0 0 1 18.22,7.68 A12.5,12.5 0 0 1 42.17,11.11 A8.5,8.5 0 0 1 40.80,28.00 Z" fill="url(#gCl)"/><path d="M9.00,28.00 A9,9 0 0 1 8.75,10.00 A8,8 0 0 1 18.22,7.68 A12.5,12.5 0 0 1 42.17,11.11 A8.5,8.5 0 0 1 40.80,28.00 Z" fill="url(#gClShade)"/></g></g>
<g transform="translate(1102.82,234.70) scale(1.000)"><use href="#sun" transform="translate(0.20,23.60) scale(0.9792)"/><clipPath id="hc14"><circle cx="0.20" cy="23.60" r="24.50"/></clipPath><g clip-path="url(#hc14)"><g transform="translate(-4.30,18.10) scale(0.6280,0.6250)"><path d="M9.00,28.00 A9,9 0 0 1 8.75,10.00 A8,8 0 0 1 18.22,7.68 A12.5,12.5 0 0 1 42.17,11.11 A8.5,8.5 0 0 1 40.80,28.00 Z" fill="#fff" stroke="#fff" stroke-width="5.10" stroke-linejoin="round"/></g></g><g transform="translate(-4.30,18.10) scale(0.6280,0.6250)"><path d="M9.00,28.00 A9,9 0 0 1 8.75,10.00 A8,8 0 0 1 18.22,7.68 A12.5,12.5 0 0 1 42.17,11.11 A8.5,8.5 0 0 1 40.80,28.00 Z" fill="url(#gCl)"/><path d="M9.00,28.00 A9,9 0 0 1 8.75,10.00 A8,8 0 0 1 18.22,7.68 A12.5,12.5 0 0 1 42.17,11.11 A8.5,8.5 0 0 1 40.80,28.00 Z" fill="url(#gClShade)"/></g></g>
<g transform="translate(1160.01,227.00) scale(1.000)"><clipPath id="sc15"><polygon points="-52.30,36.90 27.70,-4.70 27.70,-26.90 -52.30,-26.90"/></clipPath><g clip-path="url(#sc15)"><use href="#sun" transform="translate(-12.30,13.10) scale(0.5417)"/></g><g transform="translate(-25.00,12.10) scale(0.9920,1.0179)"><path d="M9.00,28.00 A9,9 0 0 1 8.75,10.00 A8,8 0 0 1 18.22,7.68 A12.5,12.5 0 0 1 42.17,11.11 A8.5,8.5 0 0 1 40.80,28.00 Z" fill="url(#gClD)"/><path d="M9.00,28.00 A9,9 0 0 1 8.75,10.00 A8,8 0 0 1 18.22,7.68 A12.5,12.5 0 0 1 42.17,11.11 A8.5,8.5 0 0 1 40.80,28.00 Z" fill="url(#gClShade)"/></g><line x1="-6.00" y1="45.60" x2="-9.00" y2="51.20" stroke="#1a6fe0" stroke-width="2.8" stroke-linecap="round"/><line x1="0.90" y1="50.60" x2="-2.10" y2="56.20" stroke="#1a6fe0" stroke-width="2.8" stroke-linecap="round"/><line x1="10.00" y1="45.70" x2="7.00" y2="51.30" stroke="#1a6fe0" stroke-width="2.8" stroke-linecap="round"/></g>
<g transform="translate(1217.20,241.00) scale(1.000)"><g transform="translate(-24.80,0.00) scale(0.9860,1.0000)"><path d="M9.00,28.00 A9,9 0 0 1 8.75,10.00 A8,8 0 0 1 18.22,7.68 A12.5,12.5 0 0 1 42.17,11.11 A8.5,8.5 0 0 1 40.80,28.00 Z" fill="url(#gClM)"/><path d="M9.00,28.00 A9,9 0 0 1 8.75,10.00 A8,8 0 0 1 18.22,7.68 A12.5,12.5 0 0 1 42.17,11.11 A8.5,8.5 0 0 1 40.80,28.00 Z" fill="url(#gClShade)"/></g><line x1="-6.40" y1="37.80" x2="-9.40" y2="43.40" stroke="#1a6fe0" stroke-width="2.8" stroke-linecap="round"/><line x1="7.80" y1="32.60" x2="4.80" y2="38.20" stroke="#1a6fe0" stroke-width="2.8" stroke-linecap="round"/></g>
<g transform="translate(1274.39,239.00) scale(1.000)"><clipPath id="sc16"><polygon points="-52.30,36.90 27.70,-4.70 27.70,-26.90 -52.30,-26.90"/></clipPath><g clip-path="url(#sc16)"><use href="#sun" transform="translate(-12.30,13.10) scale(0.5417)"/></g><g transform="translate(-25.00,12.10) scale(0.9920,1.0179)"><path d="M9.00,28.00 A9,9 0 0 1 8.75,10.00 A8,8 0 0 1 18.22,7.68 A12.5,12.5 0 0 1 42.17,11.11 A8.5,8.5 0 0 1 40.80,28.00 Z" fill="url(#gClM)"/><path d="M9.00,28.00 A9,9 0 0 1 8.75,10.00 A8,8 0 0 1 18.22,7.68 A12.5,12.5 0 0 1 42.17,11.11 A8.5,8.5 0 0 1 40.80,28.00 Z" fill="url(#gClShade)"/></g><line x1="-6.00" y1="49.20" x2="-9.00" y2="54.80" stroke="#1a6fe0" stroke-width="2.8" stroke-linecap="round"/><line x1="8.30" y1="44.20" x2="5.30" y2="49.80" stroke="#1a6fe0" stroke-width="2.8" stroke-linecap="round"/></g>
<g transform="translate(1331.58,284.00) scale(1.000)"><use href="#moon" transform="translate(-5.10,16.40) scale(1.0000)"/><clipPath id="hc17"><circle cx="-5.10" cy="16.40" r="17.50"/></clipPath><g clip-path="url(#hc17)"><g transform="translate(-4.80,12.90) scale(0.6300,0.6143)"><path d="M9.00,28.00 A9,9 0 0 1 8.75,10.00 A8,8 0 0 1 18.22,7.68 A12.5,12.5 0 0 1 42.17,11.11 A8.5,8.5 0 0 1 40.80,28.00 Z" fill="#fff" stroke="#fff" stroke-width="5.08" stroke-linejoin="round"/></g></g><g transform="translate(-4.80,12.90) scale(0.6300,0.6143)"><path d="M9.00,28.00 A9,9 0 0 1 8.75,10.00 A8,8 0 0 1 18.22,7.68 A12.5,12.5 0 0 1 42.17,11.11 A8.5,8.5 0 0 1 40.80,28.00 Z" fill="url(#gCl)"/><path d="M9.00,28.00 A9,9 0 0 1 8.75,10.00 A8,8 0 0 1 18.22,7.68 A12.5,12.5 0 0 1 42.17,11.11 A8.5,8.5 0 0 1 40.80,28.00 Z" fill="url(#gClShade)"/></g></g>
<g transform="translate(1388.77,318.00) scale(1.000)"><g transform="translate(-25.80,0.00) scale(1.0000,1.0357)"><path d="M9.00,28.00 A9,9 0 0 1 8.75,10.00 A8,8 0 0 1 18.22,7.68 A12.5,12.5 0 0 1 42.17,11.11 A8.5,8.5 0 0 1 40.80,28.00 Z" fill="url(#gCl)"/><path d="M9.00,28.00 A9,9 0 0 1 8.75,10.00 A8,8 0 0 1 18.22,7.68 A12.5,12.5 0 0 1 42.17,11.11 A8.5,8.5 0 0 1 40.80,28.00 Z" fill="url(#gClShade)"/></g></g>
<g transform="translate(1445.96,339.00) scale(1.000)"><use href="#moon" transform="translate(-0.90,16.80) scale(1.0000)"/></g>
<g transform="translate(1503.15,356.70) scale(1.000)"><use href="#moon" transform="translate(-0.90,16.80) scale(1.0000)"/></g>
<g transform="translate(1560.34,367.00) scale(1.000)"><use href="#moon" transform="translate(-0.90,16.80) scale(1.0000)"/></g>
<g transform="translate(1617.53,372.00) scale(1.000)"><use href="#moon" transform="translate(-0.90,16.80) scale(1.0000)"/></g>
<g transform="translate(1674.72,336.00) scale(1.000)"><use href="#sun" transform="translate(0.20,23.60) scale(0.9792)"/><clipPath id="hc18"><circle cx="0.20" cy="23.60" r="24.50"/></clipPath><g clip-path="url(#hc18)"><g transform="translate(-4.30,18.10) scale(0.6280,0.6250)"><path d="M9.00,28.00 A9,9 0 0 1 8.75,10.00 A8,8 0 0 1 18.22,7.68 A12.5,12.5 0 0 1 42.17,11.11 A8.5,8.5 0 0 1 40.80,28.00 Z" fill="#fff" stroke="#fff" stroke-width="5.10" stroke-linejoin="round"/></g></g><g transform="translate(-4.30,18.10) scale(0.6280,0.6250)"><path d="M9.00,28.00 A9,9 0 0 1 8.75,10.00 A8,8 0 0 1 18.22,7.68 A12.5,12.5 0 0 1 42.17,11.11 A8.5,8.5 0 0 1 40.80,28.00 Z" fill="url(#gCl)"/><path d="M9.00,28.00 A9,9 0 0 1 8.75,10.00 A8,8 0 0 1 18.22,7.68 A12.5,12.5 0 0 1 42.17,11.11 A8.5,8.5 0 0 1 40.80,28.00 Z" fill="url(#gClShade)"/></g></g>
<g transform="translate(1731.91,291.70) scale(1.000)"><use href="#sun" transform="translate(0.20,23.60) scale(0.9792)"/><clipPath id="hc19"><circle cx="0.20" cy="23.60" r="24.50"/></clipPath><g clip-path="url(#hc19)"><g transform="translate(-4.30,18.10) scale(0.6280,0.6250)"><path d="M9.00,28.00 A9,9 0 0 1 8.75,10.00 A8,8 0 0 1 18.22,7.68 A12.5,12.5 0 0 1 42.17,11.11 A8.5,8.5 0 0 1 40.80,28.00 Z" fill="#fff" stroke="#fff" stroke-width="5.10" stroke-linejoin="round"/></g></g><g transform="translate(-4.30,18.10) scale(0.6280,0.6250)"><path d="M9.00,28.00 A9,9 0 0 1 8.75,10.00 A8,8 0 0 1 18.22,7.68 A12.5,12.5 0 0 1 42.17,11.11 A8.5,8.5 0 0 1 40.80,28.00 Z" fill="url(#gCl)"/><path d="M9.00,28.00 A9,9 0 0 1 8.75,10.00 A8,8 0 0 1 18.22,7.68 A12.5,12.5 0 0 1 42.17,11.11 A8.5,8.5 0 0 1 40.80,28.00 Z" fill="url(#gClShade)"/></g></g>
<g transform="translate(1789.10,270.70) scale(1.000)"><use href="#sun" transform="translate(0.00,24.00) scale(1.0000)"/></g>
<rect x="73.85" y="772.2" width="24.35" height="4.4" fill="#cc0000"/>
<rect x="73.85" y="779.5" width="24.35" height="4.7" fill="#1f7ae6"/>
<text x="108.72" y="786.80" font-size="29.57" font-weight="normal" fill="#56636f" textLength="217.77" lengthAdjust="spacingAndGlyphs">Температура °Ц</text>
<rect x="383.1" y="764.9" width="24.5" height="24.1" fill="#0b6bd8"/>
<text x="417.19" y="786.80" font-size="29.28" font-weight="normal" fill="#56636f" textLength="188.85" lengthAdjust="spacingAndGlyphs">Падавине мм</text>
<rect x="707" y="774.5" width="24.8" height="4.8" fill="#a108ee"/>
<text x="741.67" y="786.90" font-size="29.57" font-weight="normal" fill="#56636f" textLength="136.54" lengthAdjust="spacingAndGlyphs">Ветар м/с</text>
<clipPath id="clipW"><rect x="50" y="840" width="24.5" height="40"/></clipPath>
<text x="57.70" y="868.80" font-size="24.20" font-weight="bold" fill="#0a1a30" textLength="141.61" lengthAdjust="spacingAndGlyphs" clip-path="url(#clipW)">Wed. 15 Apr.</text>
<text x="109.37" y="868.80" font-size="24.20" font-weight="bold" fill="#0a1a30" textLength="139.09" lengthAdjust="spacingAndGlyphs">Thur. 16 Apr.</text>
<text x="313.50" y="868.80" font-size="24.20" font-weight="bold" fill="#0a1a30" textLength="112.07" lengthAdjust="spacingAndGlyphs">Fri. 17 Apr.</text>
<text x="519.04" y="868.80" font-size="24.20" font-weight="bold" fill="#0a1a30" textLength="124.81" lengthAdjust="spacingAndGlyphs">Sat. 18 Apr.</text>
<text x="724.75" y="868.80" font-size="24.20" font-weight="bold" fill="#0a1a30" textLength="131.19" lengthAdjust="spacingAndGlyphs">Sun. 19 Apr.</text>
<text x="929.72" y="868.80" font-size="24.20" font-weight="bold" fill="#0a1a30" textLength="146.55" lengthAdjust="spacingAndGlyphs">Mon. 20 Apr.</text>
<text x="1136.67" y="868.80" font-size="24.20" font-weight="bold" fill="#0a1a30" textLength="127.68" lengthAdjust="spacingAndGlyphs">Tue. 21 Apr.</text>
<text x="1341.70" y="868.80" font-size="24.20" font-weight="bold" fill="#0a1a30" textLength="142.62" lengthAdjust="spacingAndGlyphs">Wed. 22 Apr.</text>
<text x="1548.06" y="868.80" font-size="24.20" font-weight="bold" fill="#0a1a30" textLength="142.84" lengthAdjust="spacingAndGlyphs">Thur. 23 Apr.</text>
<text x="1751.27" y="868.80" font-size="24.20" font-weight="bold" fill="#0a1a30" textLength="123.04" lengthAdjust="spacingAndGlyphs">Fri. 24 Apr.</text>
<g stroke="#e3e1e3" stroke-width="1.6" fill="none">
<rect x="56.9" y="937.4" width="1850.0" height="60.2"/>
<line x1="108.3" y1="937.4" x2="108.3" y2="997.6" stroke="#d4d2d4"/>
<line x1="159.7" y1="937.4" x2="159.7" y2="997.6" stroke="#e3e1e3"/>
<line x1="211.1" y1="937.4" x2="211.1" y2="997.6" stroke="#e3e1e3"/>
<line x1="262.5" y1="937.4" x2="262.5" y2="997.6" stroke="#e3e1e3"/>
<line x1="313.8" y1="937.4" x2="313.8" y2="997.6" stroke="#d4d2d4"/>
<line x1="365.2" y1="937.4" x2="365.2" y2="997.6" stroke="#e3e1e3"/>
<line x1="416.6" y1="937.4" x2="416.6" y2="997.6" stroke="#e3e1e3"/>
<line x1="468.0" y1="937.4" x2="468.0" y2="997.6" stroke="#e3e1e3"/>
<line x1="519.4" y1="937.4" x2="519.4" y2="997.6" stroke="#d4d2d4"/>
<line x1="570.8" y1="937.4" x2="570.8" y2="997.6" stroke="#e3e1e3"/>
<line x1="622.2" y1="937.4" x2="622.2" y2="997.6" stroke="#e3e1e3"/>
<line x1="673.6" y1="937.4" x2="673.6" y2="997.6" stroke="#e3e1e3"/>
<line x1="725.0" y1="937.4" x2="725.0" y2="997.6" stroke="#d4d2d4"/>
<line x1="776.4" y1="937.4" x2="776.4" y2="997.6" stroke="#e3e1e3"/>
<line x1="827.8" y1="937.4" x2="827.8" y2="997.6" stroke="#e3e1e3"/>
<line x1="879.1" y1="937.4" x2="879.1" y2="997.6" stroke="#e3e1e3"/>
<line x1="930.5" y1="937.4" x2="930.5" y2="997.6" stroke="#d4d2d4"/>
<line x1="981.9" y1="937.4" x2="981.9" y2="997.6" stroke="#e3e1e3"/>
<line x1="1033.3" y1="937.4" x2="1033.3" y2="997.6" stroke="#e3e1e3"/>
<line x1="1084.7" y1="937.4" x2="1084.7" y2="997.6" stroke="#e3e1e3"/>
<line x1="1136.1" y1="937.4" x2="1136.1" y2="997.6" stroke="#d4d2d4"/>
<line x1="1187.5" y1="937.4" x2="1187.5" y2="997.6" stroke="#e3e1e3"/>
<line x1="1238.9" y1="937.4" x2="1238.9" y2="997.6" stroke="#e3e1e3"/>
<line x1="1290.3" y1="937.4" x2="1290.3" y2="997.6" stroke="#e3e1e3"/>
<line x1="1341.7" y1="937.4" x2="1341.7" y2="997.6" stroke="#d4d2d4"/>
<line x1="1393.0" y1="937.4" x2="1393.0" y2="997.6" stroke="#e3e1e3"/>
<line x1="1444.4" y1="937.4" x2="1444.4" y2="997.6" stroke="#e3e1e3"/>
<line x1="1495.8" y1="937.4" x2="1495.8" y2="997.6" stroke="#e3e1e3"/>
<line x1="1547.2" y1="937.4" x2="1547.2" y2="997.6" stroke="#d4d2d4"/>
<line x1="1598.6" y1="937.4" x2="1598.6" y2="997.6" stroke="#e3e1e3"/>
<line x1="1650.0" y1="937.4" x2="1650.0" y2="997.6" stroke="#e3e1e3"/>
<line x1="1701.4" y1="937.4" x2="1701.4" y2="997.6" stroke="#e3e1e3"/>
<line x1="1752.8" y1="937.4" x2="1752.8" y2="997.6" stroke="#d4d2d4"/>
<line x1="1804.2" y1="937.4" x2="1804.2" y2="997.6" stroke="#e3e1e3"/>
<line x1="1855.6" y1="937.4" x2="1855.6" y2="997.6" stroke="#e3e1e3"/>
</g>
<g transform="translate(82.59,884.17) scale(0.847)"><use href="#moon" transform="translate(-16.20,11.20) scale(0.7400)"/><clipPath id="hc20"><circle cx="-16.20" cy="11.20" r="13.00"/></clipPath><g clip-path="url(#hc20)"><g transform="translate(-25.60,11.70) scale(0.9940,1.0000)"><path d="M9.00,28.00 A9,9 0 0 1 8.75,10.00 A8,8 0 0 1 18.22,7.68 A12.5,12.5 0 0 1 42.17,11.11 A8.5,8.5 0 0 1 40.80,28.00 Z" fill="#fff" stroke="#fff" stroke-width="3.22" stroke-linejoin="round"/></g></g><g transform="translate(-25.60,11.70) scale(0.9940,1.0000)"><path d="M9.00,28.00 A9,9 0 0 1 8.75,10.00 A8,8 0 0 1 18.22,7.68 A12.5,12.5 0 0 1 42.17,11.11 A8.5,8.5 0 0 1 40.80,28.00 Z" fill="url(#gCl)"/><path d="M9.00,28.00 A9,9 0 0 1 8.75,10.00 A8,8 0 0 1 18.22,7.68 A12.5,12.5 0 0 1 42.17,11.11 A8.5,8.5 0 0 1 40.80,28.00 Z" fill="url(#gClShade)"/></g></g>
<g transform="translate(133.98,884.17) scale(0.847)"><use href="#moon" transform="translate(-16.20,11.20) scale(0.7400)"/><clipPath id="hc21"><circle cx="-16.20" cy="11.20" r="13.00"/></clipPath><g clip-path="url(#hc21)"><g transform="translate(-25.60,11.70) scale(0.9940,1.0000)"><path d="M9.00,28.00 A9,9 0 0 1 8.75,10.00 A8,8 0 0 1 18.22,7.68 A12.5,12.5 0 0 1 42.17,11.11 A8.5,8.5 0 0 1 40.80,28.00 Z" fill="#fff" stroke="#fff" stroke-width="3.22" stroke-linejoin="round"/></g></g><g transform="translate(-25.60,11.70) scale(0.9940,1.0000)"><path d="M9.00,28.00 A9,9 0 0 1 8.75,10.00 A8,8 0 0 1 18.22,7.68 A12.5,12.5 0 0 1 42.17,11.11 A8.5,8.5 0 0 1 40.80,28.00 Z" fill="url(#gCl)"/><path d="M9.00,28.00 A9,9 0 0 1 8.75,10.00 A8,8 0 0 1 18.22,7.68 A12.5,12.5 0 0 1 42.17,11.11 A8.5,8.5 0 0 1 40.80,28.00 Z" fill="url(#gClShade)"/></g></g>
<g transform="translate(185.38,883.67) scale(0.847)"><clipPath id="sc22"><polygon points="-51.60,37.70 28.40,-3.90 28.40,-26.10 -51.60,-26.10"/></clipPath><g clip-path="url(#sc22)"><use href="#sun" transform="translate(-11.60,13.90) scale(0.5833)"/></g><g transform="translate(-25.10,12.00) scale(0.9940,1.0107)"><path d="M9.00,28.00 A9,9 0 0 1 8.75,10.00 A8,8 0 0 1 18.22,7.68 A12.5,12.5 0 0 1 42.17,11.11 A8.5,8.5 0 0 1 40.80,28.00 Z" fill="url(#gCl)"/><path d="M9.00,28.00 A9,9 0 0 1 8.75,10.00 A8,8 0 0 1 18.22,7.68 A12.5,12.5 0 0 1 42.17,11.11 A8.5,8.5 0 0 1 40.80,28.00 Z" fill="url(#gClShade)"/></g></g>
<g transform="translate(236.77,883.67) scale(0.847)"><clipPath id="sc23"><polygon points="-51.60,37.70 28.40,-3.90 28.40,-26.10 -51.60,-26.10"/></clipPath><g clip-path="url(#sc23)"><use href="#sun" transform="translate(-11.60,13.90) scale(0.5833)"/></g><g transform="translate(-25.10,12.00) scale(0.9940,1.0107)"><path d="M9.00,28.00 A9,9 0 0 1 8.75,10.00 A8,8 0 0 1 18.22,7.68 A12.5,12.5 0 0 1 42.17,11.11 A8.5,8.5 0 0 1 40.80,28.00 Z" fill="url(#gCl)"/><path d="M9.00,28.00 A9,9 0 0 1 8.75,10.00 A8,8 0 0 1 18.22,7.68 A12.5,12.5 0 0 1 42.17,11.11 A8.5,8.5 0 0 1 40.80,28.00 Z" fill="url(#gClShade)"/></g></g>
<g transform="translate(288.15,893.41) scale(0.847)"><use href="#moon" transform="translate(-5.10,16.40) scale(1.0000)"/><clipPath id="hc24"><circle cx="-5.10" cy="16.40" r="17.50"/></clipPath><g clip-path="url(#hc24)"><g transform="translate(-4.80,12.90) scale(0.6300,0.6143)"><path d="M9.00,28.00 A9,9 0 0 1 8.75,10.00 A8,8 0 0 1 18.22,7.68 A12.5,12.5 0 0 1 42.17,11.11 A8.5,8.5 0 0 1 40.80,28.00 Z" fill="#fff" stroke="#fff" stroke-width="5.08" stroke-linejoin="round"/></g></g><g transform="translate(-4.80,12.90) scale(0.6300,0.6143)"><path d="M9.00,28.00 A9,9 0 0 1 8.75,10.00 A8,8 0 0 1 18.22,7.68 A12.5,12.5 0 0 1 42.17,11.11 A8.5,8.5 0 0 1 40.80,28.00 Z" fill="url(#gCl)"/><path d="M9.00,28.00 A9,9 0 0 1 8.75,10.00 A8,8 0 0 1 18.22,7.68 A12.5,12.5 0 0 1 42.17,11.11 A8.5,8.5 0 0 1 40.80,28.00 Z" fill="url(#gClShade)"/></g></g>
<g transform="translate(339.54,893.07) scale(0.847)"><use href="#moon" transform="translate(-0.90,16.80) scale(1.0000)"/></g>
<g transform="translate(390.94,887.71) scale(0.847)"><use href="#sun" transform="translate(0.20,23.60) scale(0.9792)"/><clipPath id="hc25"><circle cx="0.20" cy="23.60" r="24.50"/></clipPath><g clip-path="url(#hc25)"><g transform="translate(-4.30,18.10) scale(0.6280,0.6250)"><path d="M9.00,28.00 A9,9 0 0 1 8.75,10.00 A8,8 0 0 1 18.22,7.68 A12.5,12.5 0 0 1 42.17,11.11 A8.5,8.5 0 0 1 40.80,28.00 Z" fill="#fff" stroke="#fff" stroke-width="5.10" stroke-linejoin="round"/></g></g><g transform="translate(-4.30,18.10) scale(0.6280,0.6250)"><path d="M9.00,28.00 A9,9 0 0 1 8.75,10.00 A8,8 0 0 1 18.22,7.68 A12.5,12.5 0 0 1 42.17,11.11 A8.5,8.5 0 0 1 40.80,28.00 Z" fill="url(#gCl)"/><path d="M9.00,28.00 A9,9 0 0 1 8.75,10.00 A8,8 0 0 1 18.22,7.68 A12.5,12.5 0 0 1 42.17,11.11 A8.5,8.5 0 0 1 40.80,28.00 Z" fill="url(#gClShade)"/></g></g>
<g transform="translate(442.32,883.41) scale(0.847)"><clipPath id="sc26"><polygon points="-52.30,36.90 27.70,-4.70 27.70,-26.90 -52.30,-26.90"/></clipPath><g clip-path="url(#sc26)"><use href="#sun" transform="translate(-12.30,13.10) scale(0.5417)"/></g><g transform="translate(-25.00,12.10) scale(0.9920,1.0179)"><path d="M9.00,28.00 A9,9 0 0 1 8.75,10.00 A8,8 0 0 1 18.22,7.68 A12.5,12.5 0 0 1 42.17,11.11 A8.5,8.5 0 0 1 40.80,28.00 Z" fill="url(#gClD)"/><path d="M9.00,28.00 A9,9 0 0 1 8.75,10.00 A8,8 0 0 1 18.22,7.68 A12.5,12.5 0 0 1 42.17,11.11 A8.5,8.5 0 0 1 40.80,28.00 Z" fill="url(#gClShade)"/></g><line x1="-6.00" y1="45.60" x2="-9.00" y2="51.20" stroke="#1a6fe0" stroke-width="2.8" stroke-linecap="round"/><line x1="0.90" y1="50.60" x2="-2.10" y2="56.20" stroke="#1a6fe0" stroke-width="2.8" stroke-linecap="round"/><line x1="10.00" y1="45.70" x2="7.00" y2="51.30" stroke="#1a6fe0" stroke-width="2.8" stroke-linecap="round"/></g>
<g transform="translate(493.71,884.17) scale(0.847)"><use href="#moon" transform="translate(-16.20,11.20) scale(0.7400)"/><clipPath id="hc27"><circle cx="-16.20" cy="11.20" r="13.00"/></clipPath><g clip-path="url(#hc27)"><g transform="translate(-25.60,11.70) scale(0.9940,1.0000)"><path d="M9.00,28.00 A9,9 0 0 1 8.75,10.00 A8,8 0 0 1 18.22,7.68 A12.5,12.5 0 0 1 42.17,11.11 A8.5,8.5 0 0 1 40.80,28.00 Z" fill="#fff" stroke="#fff" stroke-width="3.22" stroke-linejoin="round"/></g></g><g transform="translate(-25.60,11.70) scale(0.9940,1.0000)"><path d="M9.00,28.00 A9,9 0 0 1 8.75,10.00 A8,8 0 0 1 18.22,7.68 A12.5,12.5 0 0 1 42.17,11.11 A8.5,8.5 0 0 1 40.80,28.00 Z" fill="url(#gCl)"/><path d="M9.00,28.00 A9,9 0 0 1 8.75,10.00 A8,8 0 0 1 18.22,7.68 A12.5,12.5 0 0 1 42.17,11.11 A8.5,8.5 0 0 1 40.80,28.00 Z" fill="url(#gClShade)"/></g></g>
<g transform="translate(545.11,893.07) scale(0.847)"><use href="#moon" transform="translate(-0.90,16.80) scale(1.0000)"/></g>
<g transform="translate(596.50,887.71) scale(0.847)"><use href="#sun" transform="translate(0.20,23.60) scale(0.9792)"/><clipPath id="hc28"><circle cx="0.20" cy="23.60" r="24.50"/></clipPath><g clip-path="url(#hc28)"><g transform="translate(-4.30,18.10) scale(0.6280,0.6250)"><path d="M9.00,28.00 A9,9 0 0 1 8.75,10.00 A8,8 0 0 1 18.22,7.68 A12.5,12.5 0 0 1 42.17,11.11 A8.5,8.5 0 0 1 40.80,28.00 Z" fill="#fff" stroke="#fff" stroke-width="5.10" stroke-linejoin="round"/></g></g><g transform="translate(-4.30,18.10) scale(0.6280,0.6250)"><path d="M9.00,28.00 A9,9 0 0 1 8.75,10.00 A8,8 0 0 1 18.22,7.68 A12.5,12.5 0 0 1 42.17,11.11 A8.5,8.5 0 0 1 40.80,28.00 Z" fill="url(#gCl)"/><path d="M9.00,28.00 A9,9 0 0 1 8.75,10.00 A8,8 0 0 1 18.22,7.68 A12.5,12.5 0 0 1 42.17,11.11 A8.5,8.5 0 0 1 40.80,28.00 Z" fill="url(#gClShade)"/></g></g>
<g transform="translate(647.88,893.24) scale(0.847)"><g transform="translate(-25.80,0.00) scale(1.0000,1.0357)"><path d="M9.00,28.00 A9,9 0 0 1 8.75,10.00 A8,8 0 0 1 18.22,7.68 A12.5,12.5 0 0 1 42.17,11.11 A8.5,8.5 0 0 1 40.80,28.00 Z" fill="url(#gCl)"/><path d="M9.00,28.00 A9,9 0 0 1 8.75,10.00 A8,8 0 0 1 18.22,7.68 A12.5,12.5 0 0 1 42.17,11.11 A8.5,8.5 0 0 1 40.80,28.00 Z" fill="url(#gClShade)"/></g></g>
<g transform="translate(699.28,893.07) scale(0.847)"><use href="#moon" transform="translate(-0.90,16.80) scale(1.0000)"/></g>
<g transform="translate(750.67,893.07) scale(0.847)"><use href="#moon" transform="translate(-0.90,16.80) scale(1.0000)"/></g>
<g transform="translate(802.06,887.37) scale(0.847)"><use href="#sun" transform="translate(0.00,24.00) scale(1.0000)"/></g>
<g transform="translate(853.45,887.71) scale(0.847)"><use href="#sun" transform="translate(0.20,23.60) scale(0.9792)"/><clipPath id="hc29"><circle cx="0.20" cy="23.60" r="24.50"/></clipPath><g clip-path="url(#hc29)"><g transform="translate(-4.30,18.10) scale(0.6280,0.6250)"><path d="M9.00,28.00 A9,9 0 0 1 8.75,10.00 A8,8 0 0 1 18.22,7.68 A12.5,12.5 0 0 1 42.17,11.11 A8.5,8.5 0 0 1 40.80,28.00 Z" fill="#fff" stroke="#fff" stroke-width="5.10" stroke-linejoin="round"/></g></g><g transform="translate(-4.30,18.10) scale(0.6280,0.6250)"><path d="M9.00,28.00 A9,9 0 0 1 8.75,10.00 A8,8 0 0 1 18.22,7.68 A12.5,12.5 0 0 1 42.17,11.11 A8.5,8.5 0 0 1 40.80,28.00 Z" fill="url(#gCl)"/><path d="M9.00,28.00 A9,9 0 0 1 8.75,10.00 A8,8 0 0 1 18.22,7.68 A12.5,12.5 0 0 1 42.17,11.11 A8.5,8.5 0 0 1 40.80,28.00 Z" fill="url(#gClShade)"/></g></g>
<g transform="translate(904.84,893.07) scale(0.847)"><use href="#moon" transform="translate(-0.90,16.80) scale(1.0000)"/></g>
<g transform="translate(956.23,884.17) scale(0.847)"><use href="#moon" transform="translate(-16.20,11.20) scale(0.7400)"/><clipPath id="hc30"><circle cx="-16.20" cy="11.20" r="13.00"/></clipPath><g clip-path="url(#hc30)"><g transform="translate(-25.60,11.70) scale(0.9940,1.0000)"><path d="M9.00,28.00 A9,9 0 0 1 8.75,10.00 A8,8 0 0 1 18.22,7.68 A12.5,12.5 0 0 1 42.17,11.11 A8.5,8.5 0 0 1 40.80,28.00 Z" fill="#fff" stroke="#fff" stroke-width="3.22" stroke-linejoin="round"/></g></g><g transform="translate(-25.60,11.70) scale(0.9940,1.0000)"><path d="M9.00,28.00 A9,9 0 0 1 8.75,10.00 A8,8 0 0 1 18.22,7.68 A12.5,12.5 0 0 1 42.17,11.11 A8.5,8.5 0 0 1 40.80,28.00 Z" fill="url(#gCl)"/><path d="M9.00,28.00 A9,9 0 0 1 8.75,10.00 A8,8 0 0 1 18.22,7.68 A12.5,12.5 0 0 1 42.17,11.11 A8.5,8.5 0 0 1 40.80,28.00 Z" fill="url(#gClShade)"/></g></g>
<g transform="translate(1007.62,893.24) scale(0.847)"><g transform="translate(-25.80,0.00) scale(1.0000,1.0357)"><path d="M9.00,28.00 A9,9 0 0 1 8.75,10.00 A8,8 0 0 1 18.22,7.68 A12.5,12.5 0 0 1 42.17,11.11 A8.5,8.5 0 0 1 40.80,28.00 Z" fill="url(#gCl)"/><path d="M9.00,28.00 A9,9 0 0 1 8.75,10.00 A8,8 0 0 1 18.22,7.68 A12.5,12.5 0 0 1 42.17,11.11 A8.5,8.5 0 0 1 40.80,28.00 Z" fill="url(#gClShade)"/></g></g>
<g transform="translate(1059.00,894.08) scale(0.847)"><g transform="translate(-24.80,0.00) scale(0.9860,1.0000)"><path d="M9.00,28.00 A9,9 0 0 1 8.75,10.00 A8,8 0 0 1 18.22,7.68 A12.5,12.5 0 0 1 42.17,11.11 A8.5,8.5 0 0 1 40.80,28.00 Z" fill="url(#gClD)"/><path d="M9.00,28.00 A9,9 0 0 1 8.75,10.00 A8,8 0 0 1 18.22,7.68 A12.5,12.5 0 0 1 42.17,11.11 A8.5,8.5 0 0 1 40.80,28.00 Z" fill="url(#gClShade)"/></g><line x1="-6.50" y1="33.20" x2="-9.50" y2="38.80" stroke="#1a6fe0" stroke-width="2.8" stroke-linecap="round"/><line x1="0.50" y1="38.20" x2="-2.50" y2="43.80" stroke="#1a6fe0" stroke-width="2.8" stroke-linecap="round"/><line x1="9.50" y1="33.20" x2="6.50" y2="38.80" stroke="#1a6fe0" stroke-width="2.8" stroke-linecap="round"/></g>
<g transform="translate(1110.39,894.08) scale(0.847)"><g transform="translate(-24.80,0.00) scale(0.9860,1.0000)"><path d="M9.00,28.00 A9,9 0 0 1 8.75,10.00 A8,8 0 0 1 18.22,7.68 A12.5,12.5 0 0 1 42.17,11.11 A8.5,8.5 0 0 1 40.80,28.00 Z" fill="url(#gClD)"/><path d="M9.00,28.00 A9,9 0 0 1 8.75,10.00 A8,8 0 0 1 18.22,7.68 A12.5,12.5 0 0 1 42.17,11.11 A8.5,8.5 0 0 1 40.80,28.00 Z" fill="url(#gClShade)"/></g><line x1="-6.50" y1="33.20" x2="-9.50" y2="38.80" stroke="#1a6fe0" stroke-width="2.8" stroke-linecap="round"/><line x1="0.50" y1="38.20" x2="-2.50" y2="43.80" stroke="#1a6fe0" stroke-width="2.8" stroke-linecap="round"/><line x1="9.50" y1="33.20" x2="6.50" y2="38.80" stroke="#1a6fe0" stroke-width="2.8" stroke-linecap="round"/></g>
<g transform="translate(1161.79,894.08) scale(0.847)"><g transform="translate(-24.80,0.00) scale(0.9860,1.0000)"><path d="M9.00,28.00 A9,9 0 0 1 8.75,10.00 A8,8 0 0 1 18.22,7.68 A12.5,12.5 0 0 1 42.17,11.11 A8.5,8.5 0 0 1 40.80,28.00 Z" fill="url(#gClD)"/><path d="M9.00,28.00 A9,9 0 0 1 8.75,10.00 A8,8 0 0 1 18.22,7.68 A12.5,12.5 0 0 1 42.17,11.11 A8.5,8.5 0 0 1 40.80,28.00 Z" fill="url(#gClShade)"/></g><line x1="-6.50" y1="33.20" x2="-9.50" y2="38.80" stroke="#1a6fe0" stroke-width="2.8" stroke-linecap="round"/><line x1="0.50" y1="38.20" x2="-2.50" y2="43.80" stroke="#1a6fe0" stroke-width="2.8" stroke-linecap="round"/><line x1="9.50" y1="33.20" x2="6.50" y2="38.80" stroke="#1a6fe0" stroke-width="2.8" stroke-linecap="round"/></g>
<g transform="translate(1213.17,894.08) scale(0.847)"><g transform="translate(-24.80,0.00) scale(0.9860,1.0000)"><path d="M9.00,28.00 A9,9 0 0 1 8.75,10.00 A8,8 0 0 1 18.22,7.68 A12.5,12.5 0 0 1 42.17,11.11 A8.5,8.5 0 0 1 40.80,28.00 Z" fill="url(#gClD)"/><path d="M9.00,28.00 A9,9 0 0 1 8.75,10.00 A8,8 0 0 1 18.22,7.68 A12.5,12.5 0 0 1 42.17,11.11 A8.5,8.5 0 0 1 40.80,28.00 Z" fill="url(#gClShade)"/></g><line x1="-6.50" y1="33.20" x2="-9.50" y2="38.80" stroke="#1a6fe0" stroke-width="2.8" stroke-linecap="round"/><line x1="0.50" y1="38.20" x2="-2.50" y2="43.80" stroke="#1a6fe0" stroke-width="2.8" stroke-linecap="round"/><line x1="9.50" y1="33.20" x2="6.50" y2="38.80" stroke="#1a6fe0" stroke-width="2.8" stroke-linecap="round"/></g>
<g transform="translate(1264.57,894.08) scale(0.847)"><g transform="translate(-24.80,0.00) scale(0.9860,1.0000)"><path d="M9.00,28.00 A9,9 0 0 1 8.75,10.00 A8,8 0 0 1 18.22,7.68 A12.5,12.5 0 0 1 42.17,11.11 A8.5,8.5 0 0 1 40.80,28.00 Z" fill="url(#gClD)"/><path d="M9.00,28.00 A9,9 0 0 1 8.75,10.00 A8,8 0 0 1 18.22,7.68 A12.5,12.5 0 0 1 42.17,11.11 A8.5,8.5 0 0 1 40.80,28.00 Z" fill="url(#gClShade)"/></g><line x1="0.50" y1="38.20" x2="-2.50" y2="43.80" stroke="#1a6fe0" stroke-width="2.8" stroke-linecap="round"/><line x1="9.50" y1="33.20" x2="6.50" y2="38.80" stroke="#1a6fe0" stroke-width="2.8" stroke-linecap="round"/><g stroke="#15b0f0" stroke-width="1.4" stroke-linecap="round"><line x1="-11.00" y1="40.50" x2="-11.00" y2="34.50"/><line x1="-13.60" y1="39.00" x2="-8.40" y2="36.00"/><line x1="-13.60" y1="36.00" x2="-8.40" y2="39.00"/></g></g>
<g transform="translate(1315.96,893.24) scale(0.847)"><g transform="translate(-25.80,0.00) scale(1.0000,1.0357)"><path d="M9.00,28.00 A9,9 0 0 1 8.75,10.00 A8,8 0 0 1 18.22,7.68 A12.5,12.5 0 0 1 42.17,11.11 A8.5,8.5 0 0 1 40.80,28.00 Z" fill="url(#gCl)"/><path d="M9.00,28.00 A9,9 0 0 1 8.75,10.00 A8,8 0 0 1 18.22,7.68 A12.5,12.5 0 0 1 42.17,11.11 A8.5,8.5 0 0 1 40.80,28.00 Z" fill="url(#gClShade)"/></g></g>
<g transform="translate(1367.35,884.17) scale(0.847)"><use href="#moon" transform="translate(-16.20,11.20) scale(0.7400)"/><clipPath id="hc31"><circle cx="-16.20" cy="11.20" r="13.00"/></clipPath><g clip-path="url(#hc31)"><g transform="translate(-25.60,11.70) scale(0.9940,1.0000)"><path d="M9.00,28.00 A9,9 0 0 1 8.75,10.00 A8,8 0 0 1 18.22,7.68 A12.5,12.5 0 0 1 42.17,11.11 A8.5,8.5 0 0 1 40.80,28.00 Z" fill="#fff" stroke="#fff" stroke-width="3.22" stroke-linejoin="round"/></g></g><g transform="translate(-25.60,11.70) scale(0.9940,1.0000)"><path d="M9.00,28.00 A9,9 0 0 1 8.75,10.00 A8,8 0 0 1 18.22,7.68 A12.5,12.5 0 0 1 42.17,11.11 A8.5,8.5 0 0 1 40.80,28.00 Z" fill="url(#gCl)"/><path d="M9.00,28.00 A9,9 0 0 1 8.75,10.00 A8,8 0 0 1 18.22,7.68 A12.5,12.5 0 0 1 42.17,11.11 A8.5,8.5 0 0 1 40.80,28.00 Z" fill="url(#gClShade)"/></g></g>
<g transform="translate(1418.74,887.71) scale(0.847)"><use href="#sun" transform="translate(0.20,23.60) scale(0.9792)"/><clipPath id="hc32"><circle cx="0.20" cy="23.60" r="24.50"/></clipPath><g clip-path="url(#hc32)"><g transform="translate(-4.30,18.10) scale(0.6280,0.6250)"><path d="M9.00,28.00 A9,9 0 0 1 8.75,10.00 A8,8 0 0 1 18.22,7.68 A12.5,12.5 0 0 1 42.17,11.11 A8.5,8.5 0 0 1 40.80,28.00 Z" fill="#fff" stroke="#fff" stroke-width="5.10" stroke-linejoin="round"/></g></g><g transform="translate(-4.30,18.10) scale(0.6280,0.6250)"><path d="M9.00,28.00 A9,9 0 0 1 8.75,10.00 A8,8 0 0 1 18.22,7.68 A12.5,12.5 0 0 1 42.17,11.11 A8.5,8.5 0 0 1 40.80,28.00 Z" fill="url(#gCl)"/><path d="M9.00,28.00 A9,9 0 0 1 8.75,10.00 A8,8 0 0 1 18.22,7.68 A12.5,12.5 0 0 1 42.17,11.11 A8.5,8.5 0 0 1 40.80,28.00 Z" fill="url(#gClShade)"/></g></g>
<g transform="translate(1470.12,887.71) scale(0.847)"><use href="#sun" transform="translate(0.20,23.60) scale(0.9792)"/><clipPath id="hc33"><circle cx="0.20" cy="23.60" r="24.50"/></clipPath><g clip-path="url(#hc33)"><g transform="translate(-4.30,18.10) scale(0.6280,0.6250)"><path d="M9.00,28.00 A9,9 0 0 1 8.75,10.00 A8,8 0 0 1 18.22,7.68 A12.5,12.5 0 0 1 42.17,11.11 A8.5,8.5 0 0 1 40.80,28.00 Z" fill="#fff" stroke="#fff" stroke-width="5.10" stroke-linejoin="round"/></g></g><g transform="translate(-4.30,18.10) scale(0.6280,0.6250)"><path d="M9.00,28.00 A9,9 0 0 1 8.75,10.00 A8,8 0 0 1 18.22,7.68 A12.5,12.5 0 0 1 42.17,11.11 A8.5,8.5 0 0 1 40.80,28.00 Z" fill="url(#gCl)"/><path d="M9.00,28.00 A9,9 0 0 1 8.75,10.00 A8,8 0 0 1 18.22,7.68 A12.5,12.5 0 0 1 42.17,11.11 A8.5,8.5 0 0 1 40.80,28.00 Z" fill="url(#gClShade)"/></g></g>
<g transform="translate(1521.52,893.41) scale(0.847)"><use href="#moon" transform="translate(-5.10,16.40) scale(1.0000)"/><clipPath id="hc34"><circle cx="-5.10" cy="16.40" r="17.50"/></clipPath><g clip-path="url(#hc34)"><g transform="translate(-4.80,12.90) scale(0.6300,0.6143)"><path d="M9.00,28.00 A9,9 0 0 1 8.75,10.00 A8,8 0 0 1 18.22,7.68 A12.5,12.5 0 0 1 42.17,11.11 A8.5,8.5 0 0 1 40.80,28.00 Z" fill="#fff" stroke="#fff" stroke-width="5.08" stroke-linejoin="round"/></g></g><g transform="translate(-4.80,12.90) scale(0.6300,0.6143)"><path d="M9.00,28.00 A9,9 0 0 1 8.75,10.00 A8,8 0 0 1 18.22,7.68 A12.5,12.5 0 0 1 42.17,11.11 A8.5,8.5 0 0 1 40.80,28.00 Z" fill="url(#gCl)"/><path d="M9.00,28.00 A9,9 0 0 1 8.75,10.00 A8,8 0 0 1 18.22,7.68 A12.5,12.5 0 0 1 42.17,11.11 A8.5,8.5 0 0 1 40.80,28.00 Z" fill="url(#gClShade)"/></g></g>
<g transform="translate(1572.90,884.17) scale(0.847)"><use href="#moon" transform="translate(-16.20,11.20) scale(0.7400)"/><clipPath id="hc35"><circle cx="-16.20" cy="11.20" r="13.00"/></clipPath><g clip-path="url(#hc35)"><g transform="translate(-25.60,11.70) scale(0.9940,1.0000)"><path d="M9.00,28.00 A9,9 0 0 1 8.75,10.00 A8,8 0 0 1 18.22,7.68 A12.5,12.5 0 0 1 42.17,11.11 A8.5,8.5 0 0 1 40.80,28.00 Z" fill="#fff" stroke="#fff" stroke-width="3.22" stroke-linejoin="round"/></g></g><g transform="translate(-25.60,11.70) scale(0.9940,1.0000)"><path d="M9.00,28.00 A9,9 0 0 1 8.75,10.00 A8,8 0 0 1 18.22,7.68 A12.5,12.5 0 0 1 42.17,11.11 A8.5,8.5 0 0 1 40.80,28.00 Z" fill="url(#gCl)"/><path d="M9.00,28.00 A9,9 0 0 1 8.75,10.00 A8,8 0 0 1 18.22,7.68 A12.5,12.5 0 0 1 42.17,11.11 A8.5,8.5 0 0 1 40.80,28.00 Z" fill="url(#gClShade)"/></g><g stroke="#15b0f0" stroke-width="1.4" stroke-linecap="round"><line x1="-10.00" y1="54.00" x2="-10.00" y2="48.00"/><line x1="-12.60" y1="52.50" x2="-7.40" y2="49.50"/><line x1="-12.60" y1="49.50" x2="-7.40" y2="52.50"/></g><g stroke="#15b0f0" stroke-width="1.4" stroke-linecap="round"><line x1="7.00" y1="51.20" x2="7.00" y2="45.20"/><line x1="4.40" y1="49.70" x2="9.60" y2="46.70"/><line x1="4.40" y1="46.70" x2="9.60" y2="49.70"/></g></g>
<g transform="translate(1624.30,887.71) scale(0.847)"><use href="#sun" transform="translate(0.20,23.60) scale(0.9792)"/><clipPath id="hc36"><circle cx="0.20" cy="23.60" r="24.50"/></clipPath><g clip-path="url(#hc36)"><g transform="translate(-4.30,18.10) scale(0.6280,0.6250)"><path d="M9.00,28.00 A9,9 0 0 1 8.75,10.00 A8,8 0 0 1 18.22,7.68 A12.5,12.5 0 0 1 42.17,11.11 A8.5,8.5 0 0 1 40.80,28.00 Z" fill="#fff" stroke="#fff" stroke-width="5.10" stroke-linejoin="round"/></g></g><g transform="translate(-4.30,18.10) scale(0.6280,0.6250)"><path d="M9.00,28.00 A9,9 0 0 1 8.75,10.00 A8,8 0 0 1 18.22,7.68 A12.5,12.5 0 0 1 42.17,11.11 A8.5,8.5 0 0 1 40.80,28.00 Z" fill="url(#gCl)"/><path d="M9.00,28.00 A9,9 0 0 1 8.75,10.00 A8,8 0 0 1 18.22,7.68 A12.5,12.5 0 0 1 42.17,11.11 A8.5,8.5 0 0 1 40.80,28.00 Z" fill="url(#gClShade)"/></g></g>
<g transform="translate(1675.68,894.08) scale(0.847)"><g transform="translate(-24.80,0.00) scale(0.9860,1.0000)"><path d="M9.00,28.00 A9,9 0 0 1 8.75,10.00 A8,8 0 0 1 18.22,7.68 A12.5,12.5 0 0 1 42.17,11.11 A8.5,8.5 0 0 1 40.80,28.00 Z" fill="url(#gClD)"/><path d="M9.00,28.00 A9,9 0 0 1 8.75,10.00 A8,8 0 0 1 18.22,7.68 A12.5,12.5 0 0 1 42.17,11.11 A8.5,8.5 0 0 1 40.80,28.00 Z" fill="url(#gClShade)"/></g><line x1="-6.50" y1="33.20" x2="-9.50" y2="38.80" stroke="#1a6fe0" stroke-width="2.8" stroke-linecap="round"/><line x1="0.50" y1="38.20" x2="-2.50" y2="43.80" stroke="#1a6fe0" stroke-width="2.8" stroke-linecap="round"/><line x1="9.50" y1="33.20" x2="6.50" y2="38.80" stroke="#1a6fe0" stroke-width="2.8" stroke-linecap="round"/></g>
<g transform="translate(1727.08,884.17) scale(0.847)"><use href="#moon" transform="translate(-16.20,11.20) scale(0.7400)"/><clipPath id="hc37"><circle cx="-16.20" cy="11.20" r="13.00"/></clipPath><g clip-path="url(#hc37)"><g transform="translate(-25.60,11.70) scale(0.9940,1.0000)"><path d="M9.00,28.00 A9,9 0 0 1 8.75,10.00 A8,8 0 0 1 18.22,7.68 A12.5,12.5 0 0 1 42.17,11.11 A8.5,8.5 0 0 1 40.80,28.00 Z" fill="#fff" stroke="#fff" stroke-width="3.22" stroke-linejoin="round"/></g></g><g transform="translate(-25.60,11.70) scale(0.9940,1.0000)"><path d="M9.00,28.00 A9,9 0 0 1 8.75,10.00 A8,8 0 0 1 18.22,7.68 A12.5,12.5 0 0 1 42.17,11.11 A8.5,8.5 0 0 1 40.80,28.00 Z" fill="url(#gCl)"/><path d="M9.00,28.00 A9,9 0 0 1 8.75,10.00 A8,8 0 0 1 18.22,7.68 A12.5,12.5 0 0 1 42.17,11.11 A8.5,8.5 0 0 1 40.80,28.00 Z" fill="url(#gClShade)"/></g></g>
<g transform="translate(1778.47,884.17) scale(0.847)"><use href="#moon" transform="translate(-16.20,11.20) scale(0.7400)"/><clipPath id="hc38"><circle cx="-16.20" cy="11.20" r="13.00"/></clipPath><g clip-path="url(#hc38)"><g transform="translate(-25.60,11.70) scale(0.9940,1.0000)"><path d="M9.00,28.00 A9,9 0 0 1 8.75,10.00 A8,8 0 0 1 18.22,7.68 A12.5,12.5 0 0 1 42.17,11.11 A8.5,8.5 0 0 1 40.80,28.00 Z" fill="#fff" stroke="#fff" stroke-width="3.22" stroke-linejoin="round"/></g></g><g transform="translate(-25.60,11.70) scale(0.9940,1.0000)"><path d="M9.00,28.00 A9,9 0 0 1 8.75,10.00 A8,8 0 0 1 18.22,7.68 A12.5,12.5 0 0 1 42.17,11.11 A8.5,8.5 0 0 1 40.80,28.00 Z" fill="url(#gClD)"/><path d="M9.00,28.00 A9,9 0 0 1 8.75,10.00 A8,8 0 0 1 18.22,7.68 A12.5,12.5 0 0 1 42.17,11.11 A8.5,8.5 0 0 1 40.80,28.00 Z" fill="url(#gClShade)"/></g><g stroke="#15b0f0" stroke-width="1.4" stroke-linecap="round"><line x1="-10.00" y1="52.50" x2="-10.00" y2="46.50"/><line x1="-12.60" y1="51.00" x2="-7.40" y2="48.00"/><line x1="-12.60" y1="48.00" x2="-7.40" y2="51.00"/></g><g stroke="#15b0f0" stroke-width="1.4" stroke-linecap="round"><line x1="-1.20" y1="57.00" x2="-1.20" y2="51.00"/><line x1="-3.80" y1="55.50" x2="1.40" y2="52.50"/><line x1="-3.80" y1="52.50" x2="1.40" y2="55.50"/></g><g stroke="#15b0f0" stroke-width="1.4" stroke-linecap="round"><line x1="7.70" y1="51.50" x2="7.70" y2="45.50"/><line x1="5.10" y1="50.00" x2="10.30" y2="47.00"/><line x1="5.10" y1="47.00" x2="10.30" y2="50.00"/></g></g>
<g transform="translate(1829.86,894.08) scale(0.847)"><g transform="translate(-24.80,0.00) scale(0.9860,1.0000)"><path d="M9.00,28.00 A9,9 0 0 1 8.75,10.00 A8,8 0 0 1 18.22,7.68 A12.5,12.5 0 0 1 42.17,11.11 A8.5,8.5 0 0 1 40.80,28.00 Z" fill="url(#gClD)"/><path d="M9.00,28.00 A9,9 0 0 1 8.75,10.00 A8,8 0 0 1 18.22,7.68 A12.5,12.5 0 0 1 42.17,11.11 A8.5,8.5 0 0 1 40.80,28.00 Z" fill="url(#gClShade)"/></g><line x1="-6.50" y1="33.20" x2="-9.50" y2="38.80" stroke="#1a6fe0" stroke-width="2.8" stroke-linecap="round"/><line x1="0.50" y1="38.20" x2="-2.50" y2="43.80" stroke="#1a6fe0" stroke-width="2.8" stroke-linecap="round"/><line x1="9.50" y1="33.20" x2="6.50" y2="38.80" stroke="#1a6fe0" stroke-width="2.8" stroke-linecap="round"/></g>
<g transform="translate(1881.25,883.67) scale(0.847)"><clipPath id="sc39"><polygon points="-51.60,37.70 28.40,-3.90 28.40,-26.10 -51.60,-26.10"/></clipPath><g clip-path="url(#sc39)"><use href="#sun" transform="translate(-11.60,13.90) scale(0.5833)"/></g><g transform="translate(-25.10,12.00) scale(0.9940,1.0107)"><path d="M9.00,28.00 A9,9 0 0 1 8.75,10.00 A8,8 0 0 1 18.22,7.68 A12.5,12.5 0 0 1 42.17,11.11 A8.5,8.5 0 0 1 40.80,28.00 Z" fill="url(#gCl)"/><path d="M9.00,28.00 A9,9 0 0 1 8.75,10.00 A8,8 0 0 1 18.22,7.68 A12.5,12.5 0 0 1 42.17,11.11 A8.5,8.5 0 0 1 40.80,28.00 Z" fill="url(#gClShade)"/></g></g>
<path d="M95.40,959.40 C104.50,959.46 134.23,959.44 150.00,959.75 C165.77,960.06 180.83,960.27 190.00,961.25 C199.17,962.23 200.67,965.39 205.00,965.60 C209.33,965.81 210.17,963.02 216.00,962.50 C221.83,961.98 234.33,962.82 240.00,962.50 C245.67,962.18 246.33,959.87 250.00,960.60 C253.67,961.33 256.67,966.48 262.00,966.90 C267.33,967.32 276.33,963.42 282.00,963.10 C287.67,962.78 286.00,964.35 296.00,965.00 C306.00,965.65 334.33,966.67 342.00,967.00 L342.00,967.50 C334.33,967.58 306.00,967.58 296.00,968.00 C286.00,968.42 287.67,970.08 282.00,970.00 C276.33,969.92 267.33,967.71 262.00,967.50 C256.67,967.29 253.67,969.17 250.00,968.75 C246.33,968.33 245.67,965.31 240.00,965.00 C234.33,964.69 221.83,966.48 216.00,966.90 C210.17,967.32 209.33,966.47 205.00,967.50 C200.67,968.53 199.17,971.95 190.00,973.10 C180.83,974.25 165.77,974.29 150.00,974.40 C134.23,974.51 104.50,973.86 95.40,973.75 Z" fill="url(#pH)"/>
<path d="M95.40,973.75 C104.50,973.86 134.23,974.51 150.00,974.40 C165.77,974.29 180.83,974.25 190.00,973.10 C199.17,971.95 200.67,968.53 205.00,967.50 C209.33,966.47 210.17,967.32 216.00,966.90 C221.83,966.48 234.33,964.69 240.00,965.00 C245.67,965.31 246.33,968.33 250.00,968.75 C253.67,969.17 256.67,967.29 262.00,967.50 C267.33,967.71 276.33,969.92 282.00,970.00 C287.67,970.08 286.00,968.42 296.00,968.00 C306.00,967.58 334.33,967.58 342.00,967.50 L342.00,968.00 C334.33,968.25 306.00,968.83 296.00,969.50 C286.00,970.17 287.67,972.17 282.00,972.00 C276.33,971.83 267.33,968.32 262.00,968.50 C256.67,968.68 253.67,972.64 250.00,973.10 C246.33,973.56 245.67,971.87 240.00,971.25 C234.33,970.63 221.83,969.71 216.00,969.40 C210.17,969.09 209.33,968.63 205.00,969.40 C200.67,970.17 199.17,973.07 190.00,974.00 C180.83,974.93 165.77,974.83 150.00,975.00 C134.23,975.17 104.50,975.00 95.40,975.00 Z" fill="url(#pM)"/>
<path d="M95.40,975.00 C104.50,975.00 134.23,975.17 150.00,975.00 C165.77,974.83 180.83,974.93 190.00,974.00 C199.17,973.07 200.67,970.17 205.00,969.40 C209.33,968.63 210.17,969.09 216.00,969.40 C221.83,969.71 234.33,970.63 240.00,971.25 C245.67,971.87 246.33,973.56 250.00,973.10 C253.67,972.64 256.67,968.68 262.00,968.50 C267.33,968.32 276.33,971.83 282.00,972.00 C287.67,972.17 286.00,970.17 296.00,969.50 C306.00,968.83 334.33,968.25 342.00,968.00 L342.00,968.50 C334.33,968.85 306.00,969.83 296.00,970.60 C286.00,971.37 287.67,973.30 282.00,973.10 C276.33,972.90 267.33,968.98 262.00,969.40 C256.67,969.82 253.67,974.98 250.00,975.60 C246.33,976.22 245.67,973.41 240.00,973.10 C234.33,972.79 221.83,974.06 216.00,973.75 C210.17,973.44 209.33,971.04 205.00,971.25 C200.67,971.46 199.17,974.27 190.00,975.00 C180.83,975.73 165.77,975.39 150.00,975.60 C134.23,975.81 104.50,976.14 95.40,976.25 Z" fill="url(#pL)"/>
<path d="M350.00,966.60 C361.00,966.58 404.33,966.67 416.00,966.50 C427.67,966.33 416.50,968.25 420.00,965.60 C423.50,962.95 431.67,950.80 437.00,950.60 C442.33,950.40 446.50,962.32 452.00,964.40 C457.50,966.48 465.67,962.79 470.00,963.10 C474.33,963.41 474.00,966.98 478.00,966.25 C482.00,965.52 488.67,958.64 494.00,958.75 C499.33,958.86 506.33,965.44 510.00,966.90 C513.67,968.36 515.00,967.40 516.00,967.50 L516.00,967.60 C515.00,967.53 513.67,968.47 510.00,967.20 C506.33,965.93 499.33,960.03 494.00,960.00 C488.67,959.97 482.00,966.00 478.00,967.00 C474.00,968.00 474.33,966.12 470.00,966.00 C465.67,965.88 457.50,966.42 452.00,966.25 C446.50,966.08 442.33,964.96 437.00,965.00 C431.67,965.04 423.50,966.13 420.00,966.50 C416.50,966.87 427.67,967.08 416.00,967.20 C404.33,967.32 361.00,967.20 350.00,967.20 Z" fill="url(#pH)"/>
<path d="M350.00,967.20 C361.00,967.20 404.33,967.32 416.00,967.20 C427.67,967.08 416.50,966.87 420.00,966.50 C423.50,966.13 431.67,965.04 437.00,965.00 C442.33,964.96 446.50,966.08 452.00,966.25 C457.50,966.42 465.67,965.88 470.00,966.00 C474.33,966.12 474.00,968.00 478.00,967.00 C482.00,966.00 488.67,959.97 494.00,960.00 C499.33,960.03 506.33,965.93 510.00,967.20 C513.67,968.47 515.00,967.53 516.00,967.60 L516.00,967.70 C515.00,967.67 513.67,968.58 510.00,967.50 C506.33,966.42 499.33,961.17 494.00,961.25 C488.67,961.33 482.00,966.79 478.00,968.00 C474.00,969.21 474.33,968.48 470.00,968.50 C465.67,968.52 457.50,968.06 452.00,968.10 C446.50,968.14 442.33,968.77 437.00,968.75 C431.67,968.73 423.50,968.16 420.00,968.00 C416.50,967.84 427.67,967.83 416.00,967.80 C404.33,967.77 361.00,967.80 350.00,967.80 Z" fill="url(#pM)"/>
<path d="M350.00,967.80 C361.00,967.80 404.33,967.77 416.00,967.80 C427.67,967.83 416.50,967.84 420.00,968.00 C423.50,968.16 431.67,968.73 437.00,968.75 C442.33,968.77 446.50,968.14 452.00,968.10 C457.50,968.06 465.67,968.52 470.00,968.50 C474.33,968.48 474.00,969.21 478.00,968.00 C482.00,966.79 488.67,961.33 494.00,961.25 C499.33,961.17 506.33,966.42 510.00,967.50 C513.67,968.58 515.00,967.67 516.00,967.70 L516.00,967.90 C515.00,968.04 513.67,967.15 510.00,968.75 C506.33,970.35 499.33,977.39 494.00,977.50 C488.67,977.61 482.00,970.23 478.00,969.40 C474.00,968.57 474.33,972.50 470.00,972.50 C465.67,972.50 457.50,967.22 452.00,969.40 C446.50,971.58 442.33,985.60 437.00,985.60 C431.67,985.60 423.50,972.15 420.00,969.40 C416.50,966.65 427.67,969.17 416.00,969.10 C404.33,969.03 361.00,969.02 350.00,969.00 Z" fill="url(#pL)"/>
<path d="M524.00,967.00 C530.00,966.88 545.67,966.38 560.00,966.25 C574.33,966.12 599.00,966.77 610.00,966.25 C621.00,965.73 620.17,963.10 626.00,963.10 C631.83,963.10 638.83,965.52 645.00,966.25 C651.17,966.98 660.00,967.29 663.00,967.50 L663.00,967.50 C660.00,967.29 651.17,966.98 645.00,966.25 C638.83,965.52 631.83,963.10 626.00,963.10 C620.17,963.10 621.00,965.73 610.00,966.25 C599.00,966.77 574.33,966.12 560.00,966.25 C545.67,966.38 530.00,966.88 524.00,967.00 Z" fill="url(#pH)"/>
<path d="M524.00,967.00 C530.00,966.88 545.67,966.38 560.00,966.25 C574.33,966.12 599.00,966.77 610.00,966.25 C621.00,965.73 620.17,963.10 626.00,963.10 C631.83,963.10 638.83,965.52 645.00,966.25 C651.17,966.98 660.00,967.29 663.00,967.50 L663.00,967.50 C660.00,967.29 651.17,966.98 645.00,966.25 C638.83,965.52 631.83,963.10 626.00,963.10 C620.17,963.10 621.00,965.73 610.00,966.25 C599.00,966.77 574.33,966.12 560.00,966.25 C545.67,966.38 530.00,966.88 524.00,967.00 Z" fill="url(#pM)"/>
<path d="M524.00,967.00 C530.00,966.88 545.67,966.38 560.00,966.25 C574.33,966.12 599.00,966.77 610.00,966.25 C621.00,965.73 620.17,963.10 626.00,963.10 C631.83,963.10 638.83,965.52 645.00,966.25 C651.17,966.98 660.00,967.29 663.00,967.50 L663.00,968.00 C660.00,968.23 651.17,968.61 645.00,969.40 C638.83,970.19 631.83,972.75 626.00,972.75 C620.17,972.75 621.00,969.96 610.00,969.40 C599.00,968.84 574.33,969.55 560.00,969.40 C545.67,969.25 530.00,968.65 524.00,968.50 Z" fill="url(#pL)"/>
<path d="M688.00,967.30 C700.83,967.30 752.17,967.30 765.00,967.30 L765.00,967.50 C752.17,967.50 700.83,967.50 688.00,967.50 Z" fill="url(#pH)"/>
<path d="M688.00,967.50 C700.83,967.50 752.17,967.50 765.00,967.50 L765.00,967.70 C752.17,967.70 700.83,967.70 688.00,967.70 Z" fill="url(#pM)"/>
<path d="M688.00,967.70 C700.83,967.70 752.17,967.70 765.00,967.70 L765.00,968.30 C752.17,968.30 700.83,968.30 688.00,968.30 Z" fill="url(#pL)"/>
<path d="M770.00,967.20 C780.00,967.17 815.00,967.27 830.00,967.00 C845.00,966.73 850.00,965.62 860.00,965.60 C870.00,965.58 880.00,966.58 890.00,966.90 C900.00,967.22 915.00,967.40 920.00,967.50 L920.00,967.60 C915.00,967.58 900.00,967.68 890.00,967.50 C880.00,967.32 870.00,966.50 860.00,966.50 C850.00,966.50 845.00,967.33 830.00,967.50 C815.00,967.67 780.00,967.50 770.00,967.50 Z" fill="url(#pH)"/>
<path d="M770.00,967.50 C780.00,967.50 815.00,967.67 830.00,967.50 C845.00,967.33 850.00,966.50 860.00,966.50 C870.00,966.50 880.00,967.32 890.00,967.50 C900.00,967.68 915.00,967.58 920.00,967.60 L920.00,967.70 C915.00,967.75 900.00,967.87 890.00,968.00 C880.00,968.13 870.00,968.50 860.00,968.50 C850.00,968.50 845.00,968.12 830.00,968.00 C815.00,967.88 780.00,967.83 770.00,967.80 Z" fill="url(#pM)"/>
<path d="M770.00,967.80 C780.00,967.83 815.00,967.88 830.00,968.00 C845.00,968.12 850.00,968.50 860.00,968.50 C870.00,968.50 880.00,968.13 890.00,968.00 C900.00,967.87 915.00,967.75 920.00,967.70 L920.00,967.90 C915.00,968.02 900.00,968.25 890.00,968.60 C880.00,968.95 870.00,970.02 860.00,970.00 C850.00,969.98 845.00,968.80 830.00,968.50 C815.00,968.20 780.00,968.25 770.00,968.20 Z" fill="url(#pL)"/>
<path d="M930.00,967.50 C938.75,966.88 965.42,965.21 982.50,963.75 C999.58,962.29 1015.42,960.42 1032.50,958.75 C1049.58,957.08 1067.50,955.21 1085.00,953.75 C1102.50,952.29 1125.00,950.69 1137.50,950.00 C1150.00,949.31 1147.92,949.18 1160.00,949.60 C1172.08,950.02 1193.33,951.50 1210.00,952.50 C1226.67,953.50 1243.33,954.56 1260.00,955.60 C1276.67,956.64 1293.33,958.02 1310.00,958.75 C1326.67,959.48 1345.00,959.48 1360.00,960.00 C1375.00,960.52 1388.33,960.75 1400.00,961.90 C1411.67,963.05 1417.50,966.38 1430.00,966.90 C1442.50,967.42 1460.00,964.98 1475.00,965.00 C1490.00,965.02 1492.50,966.62 1520.00,967.00 C1547.50,967.38 1616.67,968.05 1640.00,967.30 C1663.33,966.55 1650.00,964.42 1660.00,962.50 C1670.00,960.58 1688.33,955.80 1700.00,955.80 C1711.67,955.80 1720.83,961.30 1730.00,962.50 C1739.17,963.70 1745.00,963.21 1755.00,963.00 C1765.00,962.79 1780.00,962.58 1790.00,961.25 C1800.00,959.92 1805.83,956.77 1815.00,955.00 C1824.17,953.23 1835.83,950.81 1845.00,950.60 C1854.17,950.39 1859.67,951.67 1870.00,953.75 C1880.33,955.83 1900.83,961.54 1907.00,963.10 L1907.00,964.40 C1900.83,964.08 1880.33,963.23 1870.00,962.50 C1859.67,961.77 1854.17,960.32 1845.00,960.00 C1835.83,959.68 1824.17,960.18 1815.00,960.60 C1805.83,961.02 1800.00,962.10 1790.00,962.50 C1780.00,962.90 1765.00,962.92 1755.00,963.00 C1745.00,963.08 1739.17,962.67 1730.00,963.00 C1720.83,963.33 1711.67,964.50 1700.00,965.00 C1688.33,965.50 1670.00,965.62 1660.00,966.00 C1650.00,966.38 1663.33,967.13 1640.00,967.30 C1616.67,967.47 1547.50,967.38 1520.00,967.00 C1492.50,966.62 1490.00,965.02 1475.00,965.00 C1460.00,964.98 1442.50,967.42 1430.00,966.90 C1417.50,966.38 1411.67,963.05 1400.00,961.90 C1388.33,960.75 1375.00,960.42 1360.00,960.00 C1345.00,959.58 1326.67,960.02 1310.00,959.40 C1293.33,958.77 1276.67,957.08 1260.00,956.25 C1243.33,955.42 1226.67,954.27 1210.00,954.40 C1193.33,954.52 1172.08,955.33 1160.00,957.00 C1147.92,958.67 1150.00,962.23 1137.50,964.40 C1125.00,966.57 1102.50,968.23 1085.00,970.00 C1067.50,971.77 1049.58,974.79 1032.50,975.00 C1015.42,975.21 999.58,972.48 982.50,971.25 C965.42,970.02 938.75,968.21 930.00,967.60 Z" fill="url(#pH)"/>
<path d="M930.00,967.60 C938.75,968.21 965.42,970.02 982.50,971.25 C999.58,972.48 1015.42,975.21 1032.50,975.00 C1049.58,974.79 1067.50,971.77 1085.00,970.00 C1102.50,968.23 1125.00,966.57 1137.50,964.40 C1150.00,962.23 1147.92,958.67 1160.00,957.00 C1172.08,955.33 1193.33,954.52 1210.00,954.40 C1226.67,954.27 1243.33,955.42 1260.00,956.25 C1276.67,957.08 1293.33,958.77 1310.00,959.40 C1326.67,960.02 1345.00,959.58 1360.00,960.00 C1375.00,960.42 1388.33,960.75 1400.00,961.90 C1411.67,963.05 1417.50,966.38 1430.00,966.90 C1442.50,967.42 1460.00,964.98 1475.00,965.00 C1490.00,965.02 1492.50,966.62 1520.00,967.00 C1547.50,967.38 1616.67,967.47 1640.00,967.30 C1663.33,967.13 1650.00,966.38 1660.00,966.00 C1670.00,965.62 1688.33,965.50 1700.00,965.00 C1711.67,964.50 1720.83,963.33 1730.00,963.00 C1739.17,962.67 1745.00,963.08 1755.00,963.00 C1765.00,962.92 1780.00,962.90 1790.00,962.50 C1800.00,962.10 1805.83,961.02 1815.00,960.60 C1824.17,960.18 1835.83,959.68 1845.00,960.00 C1854.17,960.32 1859.67,961.77 1870.00,962.50 C1880.33,963.23 1900.83,964.08 1907.00,964.40 L1907.00,968.10 C1900.83,968.32 1880.33,968.46 1870.00,969.40 C1859.67,970.34 1854.17,973.23 1845.00,973.75 C1835.83,974.27 1824.17,973.12 1815.00,972.50 C1805.83,971.88 1800.00,970.75 1790.00,970.00 C1780.00,969.25 1765.00,967.79 1755.00,968.00 C1745.00,968.21 1739.17,969.53 1730.00,971.25 C1720.83,972.97 1711.67,978.17 1700.00,978.30 C1688.33,978.42 1670.00,973.75 1660.00,972.00 C1650.00,970.25 1663.33,968.50 1640.00,967.80 C1616.67,967.10 1547.50,967.52 1520.00,967.80 C1492.50,968.08 1490.00,969.55 1475.00,969.50 C1460.00,969.45 1442.50,968.57 1430.00,967.50 C1417.50,966.43 1411.67,964.14 1400.00,963.10 C1388.33,962.06 1375.00,961.25 1360.00,961.25 C1345.00,961.25 1326.67,962.38 1310.00,963.10 C1293.33,963.83 1276.67,964.77 1260.00,965.60 C1243.33,966.43 1226.67,966.87 1210.00,968.10 C1193.33,969.33 1172.08,971.23 1160.00,973.00 C1147.92,974.77 1150.00,977.33 1137.50,978.75 C1125.00,980.17 1102.50,981.92 1085.00,981.50 C1067.50,981.08 1049.58,977.96 1032.50,976.25 C1015.42,974.54 999.58,972.67 982.50,971.25 C965.42,969.83 938.75,968.29 930.00,967.70 Z" fill="url(#pM)"/>
<path d="M930.00,967.70 C938.75,968.29 965.42,969.83 982.50,971.25 C999.58,972.67 1015.42,974.54 1032.50,976.25 C1049.58,977.96 1067.50,981.08 1085.00,981.50 C1102.50,981.92 1125.00,980.17 1137.50,978.75 C1150.00,977.33 1147.92,974.77 1160.00,973.00 C1172.08,971.23 1193.33,969.33 1210.00,968.10 C1226.67,966.87 1243.33,966.43 1260.00,965.60 C1276.67,964.77 1293.33,963.83 1310.00,963.10 C1326.67,962.38 1345.00,961.25 1360.00,961.25 C1375.00,961.25 1388.33,962.06 1400.00,963.10 C1411.67,964.14 1417.50,966.43 1430.00,967.50 C1442.50,968.57 1460.00,969.45 1475.00,969.50 C1490.00,969.55 1492.50,968.08 1520.00,967.80 C1547.50,967.52 1616.67,967.10 1640.00,967.80 C1663.33,968.50 1650.00,970.25 1660.00,972.00 C1670.00,973.75 1688.33,978.42 1700.00,978.30 C1711.67,978.17 1720.83,972.97 1730.00,971.25 C1739.17,969.53 1745.00,968.21 1755.00,968.00 C1765.00,967.79 1780.00,969.25 1790.00,970.00 C1800.00,970.75 1805.83,971.88 1815.00,972.50 C1824.17,973.12 1835.83,974.27 1845.00,973.75 C1854.17,973.23 1859.67,970.34 1870.00,969.40 C1880.33,968.46 1900.83,968.32 1907.00,968.10 L1907.00,973.10 C1900.83,974.46 1880.33,979.27 1870.00,981.25 C1859.67,983.23 1854.17,985.42 1845.00,985.00 C1835.83,984.58 1824.17,980.52 1815.00,978.75 C1805.83,976.98 1800.00,975.54 1790.00,974.40 C1780.00,973.26 1765.00,971.70 1755.00,971.90 C1745.00,972.10 1739.17,974.38 1730.00,975.60 C1720.83,976.82 1711.67,979.58 1700.00,979.20 C1688.33,978.82 1670.00,975.05 1660.00,973.30 C1650.00,971.55 1663.33,969.42 1640.00,968.70 C1616.67,967.98 1547.50,968.68 1520.00,969.00 C1492.50,969.32 1490.00,970.53 1475.00,970.60 C1460.00,970.67 1442.50,968.88 1430.00,969.40 C1417.50,969.92 1411.67,972.72 1400.00,973.75 C1388.33,974.78 1375.00,974.98 1360.00,975.60 C1345.00,976.23 1326.67,976.77 1310.00,977.50 C1293.33,978.23 1276.67,979.17 1260.00,980.00 C1243.33,980.83 1226.67,981.57 1210.00,982.50 C1193.33,983.43 1172.08,985.18 1160.00,985.60 C1147.92,986.02 1150.00,985.62 1137.50,985.00 C1125.00,984.38 1102.50,983.36 1085.00,981.90 C1067.50,980.44 1049.58,978.02 1032.50,976.25 C1015.42,974.48 999.58,972.64 982.50,971.25 C965.42,969.86 938.75,968.46 930.00,967.90 Z" fill="url(#pL)"/>
<rect x="57.3" y="1021" width="13.7" height="13" fill="url(#pH)"/>
<rect x="212.7" y="1021" width="13.7" height="13" fill="url(#pM)"/>
<rect x="385.3" y="1021" width="13.7" height="13" fill="url(#pL)"/>
<g fill="#c8c8c8"><rect x="534" y="1021.5" width="13.7" height="1.6"/><rect x="534" y="1025" width="5" height="1.6"/><rect x="541" y="1025" width="6.7" height="1.6"/><rect x="534" y="1028.5" width="13.7" height="1.6"/><rect x="534" y="1032" width="6" height="1.6"/><rect x="542" y="1032" width="5.7" height="1.6"/></g>
<text x="78.33" y="1033.70" font-size="19.42" font-weight="normal" fill="#3d5163" textLength="109.30" lengthAdjust="spacingAndGlyphs">High clouds</text>
<text x="232.52" y="1033.70" font-size="19.42" font-weight="normal" fill="#3d5163" textLength="128.10" lengthAdjust="spacingAndGlyphs">Middle clouds</text>
<text x="405.84" y="1033.60" font-size="19.42" font-weight="normal" fill="#3d5163" textLength="103.78" lengthAdjust="spacingAndGlyphs">Low clouds</text>
<text x="555.33" y="1033.60" font-size="19.42" font-weight="normal" fill="#3d5163" textLength="33.88" lengthAdjust="spacingAndGlyphs">Fog</text>
</svg></body></html>
